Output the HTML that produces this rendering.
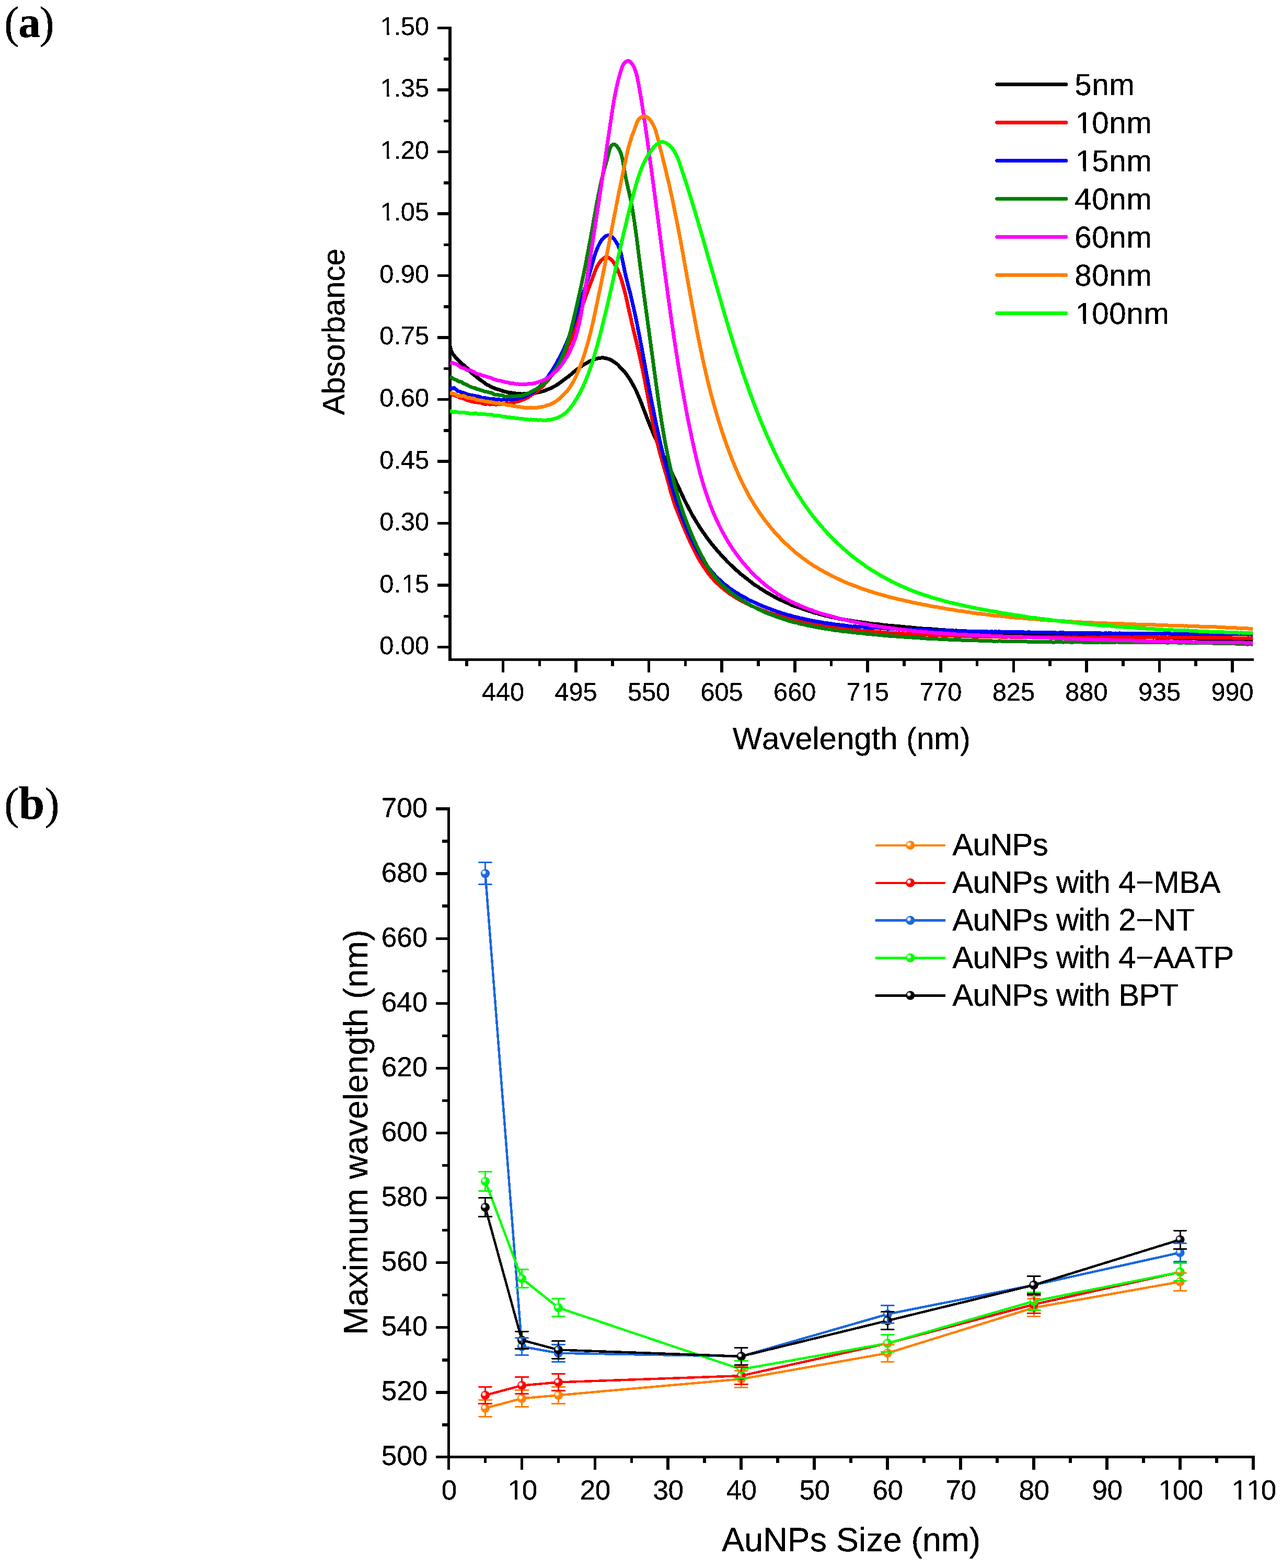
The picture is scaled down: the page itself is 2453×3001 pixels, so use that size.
<!DOCTYPE html>
<html lang="en">
<head>
<meta charset="utf-8">
<title>AuNPs absorbance spectra and maximum wavelength</title>
<style>
html,body{margin:0;padding:0;background:#fff;}
body{width:2453px;height:3001px;overflow:hidden;}
svg{display:block;}
text{font-family:"Liberation Sans",Arial,Helvetica,sans-serif;fill:#000;font-kerning:none;font-variant-ligatures:none;text-rendering:geometricPrecision;}
.lab{font-family:"Liberation Serif","DejaVu Serif",serif;}
.ax{stroke:#000;fill:none;stroke-linecap:butt;shape-rendering:crispEdges;}
.cv{fill:none;stroke-width:7;stroke-linejoin:round;stroke-linecap:butt;shape-rendering:crispEdges;}
.ln{fill:none;stroke-width:4.5;stroke-linejoin:round;stroke-linecap:round;shape-rendering:crispEdges;}
.eb{fill:none;stroke-width:3;stroke-linecap:round;shape-rendering:crispEdges;}
.tx{filter:url(#thr);}
</style>
</head>
<body>
<svg width="2453" height="3001" viewBox="0 0 2453 3001">
<defs>
<clipPath id="clipA"><rect x="860.8" y="40" width="1536.5000000000002" height="1222"/></clipPath>

<radialGradient id="hl" cx="0.5" cy="0.5" r="0.5"><stop offset="0" stop-color="#fff" stop-opacity="1"/><stop offset="0.42" stop-color="#fff" stop-opacity="0.95"/><stop offset="0.7" stop-color="#fff" stop-opacity="0.55"/><stop offset="1" stop-color="#fff" stop-opacity="0"/></radialGradient>
<filter id="thr" x="-5%" y="-5%" width="110%" height="110%" color-interpolation-filters="sRGB"><feComponentTransfer><feFuncA type="discrete" tableValues="0 0 0 1 1 1 1 1 1 1"/></feComponentTransfer></filter>
</defs>
<rect width="2453" height="3001" fill="#fff"/>
<g id="chartA">
<path class="ax" stroke-width="6" d="M861.0 50.5 V1265.2"/>
<path class="ax" stroke-width="5" d="M858.0 1262.5 H2399.0"/>
<path class="ax" stroke-width="5.6" d="M837 1238.6H861.0M837 1120.1H861.0M837 1001.6H861.0M837 883.1H861.0M837 764.6H861.0M837 646H861.0M837 527.5H861.0M837 409H861.0M837 290.5H861.0M837 172H861.0M837 53.5H861.0M849 1179.3H861.0M849 1060.8H861.0M849 942.3H861.0M849 823.8H861.0M849 705.3H861.0M849 586.8H861.0M849 468.3H861.0M849 349.8H861.0M849 231.3H861.0M849 112.8H861.0"/>
<path class="ax" stroke-width="5.6" d="M962.5 1262.4V1287M1102 1262.4V1287M1241.6 1262.4V1287M1381.1 1262.4V1287M1520.7 1262.4V1287M1660.2 1262.4V1287M1799.8 1262.4V1287M1939.4 1262.4V1287M2078.9 1262.4V1287M2218.5 1262.4V1287M2358 1262.4V1287M892.7 1262.4V1275M1032.3 1262.4V1275M1171.8 1262.4V1275M1311.4 1262.4V1275M1450.9 1262.4V1275M1590.5 1262.4V1275M1730 1262.4V1275M1869.6 1262.4V1275M2009.1 1262.4V1275M2148.7 1262.4V1275M2288.2 1262.4V1275"/>
<g clip-path="url(#clipA)">
<polyline class="cv" stroke="#000000" points="861.0,662.8 863.5,671.9 866.1,677.1 868.6,679.7 871.1,683.3 873.7,685.8 876.2,688.8 878.8,691.7 881.3,693.7 883.8,696.7 886.4,698.0 888.9,699.8 891.4,703.2 894.0,704.6 896.5,707.2 899.1,710.4 901.6,713.0 904.1,715.2 906.7,716.8 909.2,719.3 911.7,721.6 914.3,723.2 916.8,725.4 919.4,727.3 921.9,729.0 924.4,730.7 927.0,732.6 929.5,734.9 932.0,736.7 934.6,737.4 937.1,738.9 939.7,740.4 942.2,741.5 944.7,742.4 947.3,743.7 949.8,744.3 952.3,745.2 954.9,745.7 957.4,746.8 960.0,747.6 962.5,748.7 965.0,749.1 967.6,749.7 970.1,750.5 972.6,751.0 975.2,751.3 977.7,751.7 980.3,752.2 982.8,752.3 985.3,752.8 987.9,753.1 990.4,753.2 992.9,753.3 995.5,753.6 998.0,754.2 1000.6,753.9 1003.1,753.6 1005.6,753.7 1008.2,753.6 1010.7,753.6 1013.2,753.5 1015.8,753.1 1018.3,752.5 1020.8,752.3 1023.4,752.2 1025.9,751.8 1028.5,751.2 1031.0,750.9 1033.5,750.2 1036.1,749.4 1038.6,748.9 1041.1,748.0 1043.7,747.1 1046.2,746.0 1048.8,745.0 1051.3,744.1 1053.8,743.2 1056.4,741.9 1058.9,740.3 1061.4,739.0 1064.0,737.6 1066.5,736.0 1069.1,734.4 1071.6,732.5 1074.1,730.6 1076.7,728.5 1079.2,726.7 1081.7,724.9 1084.3,723.0 1086.8,721.4 1089.4,719.2 1091.9,717.1 1094.4,715.0 1097.0,712.7 1099.5,710.8 1102.0,708.7 1104.6,706.8 1107.1,705.2 1109.7,703.3 1112.2,701.2 1114.7,699.4 1117.3,697.7 1119.8,696.3 1122.3,695.1 1124.9,693.5 1127.4,691.9 1130.0,690.9 1132.5,690.0 1135.0,688.9 1137.6,687.5 1140.1,686.9 1142.6,686.3 1145.2,685.6 1147.7,685.2 1150.3,685.0 1152.8,684.8 1155.3,685.0 1157.9,685.4 1160.4,685.9 1162.9,686.7 1165.5,687.4 1168.0,688.4 1170.6,690.0 1173.1,691.5 1175.6,693.1 1178.2,695.0 1180.7,696.7 1183.2,699.1 1185.8,701.9 1188.3,704.4 1190.8,706.9 1193.4,709.8 1195.9,712.7 1198.5,716.1 1201.0,719.9 1203.5,723.5 1206.1,727.4 1208.6,731.8 1211.1,736.3 1213.7,740.9 1216.2,745.8 1218.8,751.4 1221.3,757.3 1223.8,763.1 1226.4,769.4 1228.9,776.1 1231.4,782.7 1234.0,789.3 1236.5,796.1 1239.1,802.7 1241.6,809.2 1244.1,815.4 1246.7,821.6 1249.2,827.6 1251.7,833.5 1254.3,838.9 1256.8,844.3 1259.4,849.9 1261.9,855.3 1264.4,861.0 1267.0,866.6 1269.5,871.9 1272.0,877.1 1274.6,882.5 1277.1,887.5 1279.7,892.7 1282.2,898.1 1284.7,903.4 1287.3,909.0 1289.8,914.3 1292.3,919.7 1294.9,925.3 1297.4,930.7 1300.0,936.2 1302.5,941.4 1305.0,946.7 1307.6,952.5 1310.1,957.8 1312.6,962.8 1315.2,967.7 1317.7,972.5 1320.3,977.3 1322.8,982.1 1325.3,986.8 1327.9,990.9 1330.4,995.4 1332.9,999.4 1335.5,1003.4 1338.0,1007.5 1340.5,1011.5 1343.1,1015.3 1345.6,1018.9 1348.2,1022.5 1350.7,1026.2 1353.2,1029.7 1355.8,1033.1 1358.3,1036.4 1360.8,1039.9 1363.4,1043.0 1365.9,1046.0 1368.5,1048.9 1371.0,1052.1 1373.5,1055.1 1376.1,1057.9 1378.6,1060.7 1381.1,1063.4 1383.7,1066.0 1386.2,1068.7 1388.8,1071.7 1391.3,1074.4 1393.8,1076.8 1396.4,1079.4 1398.9,1081.8 1401.4,1084.2 1404.0,1086.6 1406.5,1088.9 1409.1,1091.3 1411.6,1093.4 1414.1,1095.6 1416.7,1098.0 1419.2,1100.0 1421.7,1101.9 1424.3,1104.0 1426.8,1106.1 1429.4,1107.9 1431.9,1109.9 1434.4,1112.0 1437.0,1113.8 1439.5,1115.9 1442.0,1117.9 1444.6,1119.7 1447.1,1121.2 1449.7,1122.7 1452.2,1124.4 1454.7,1126.3 1457.3,1127.8 1459.8,1129.3 1462.3,1131.2 1464.9,1132.7 1467.4,1134.3 1470.0,1135.6 1472.5,1136.8 1475.0,1138.4 1477.6,1139.8 1480.1,1141.2 1482.6,1142.7 1485.2,1144.2 1487.7,1145.6 1490.3,1147.0 1492.8,1147.9 1495.3,1148.9 1497.9,1150.2 1500.4,1151.4 1502.9,1152.6 1505.5,1153.7 1508.0,1154.5 1510.5,1155.8 1513.1,1157.0 1515.6,1158.2 1518.2,1159.2 1520.7,1160.1 1523.2,1160.9 1525.8,1161.7 1528.3,1162.8 1530.8,1163.4 1533.4,1164.2 1535.9,1165.5 1538.5,1166.4 1541.0,1167.3 1543.5,1168.1 1546.1,1168.8 1548.6,1169.7 1551.1,1170.2 1553.7,1171.1 1556.2,1172.1 1558.8,1172.8 1561.3,1173.5 1563.8,1173.9 1566.4,1174.8 1568.9,1175.7 1571.4,1176.3 1574.0,1177.0 1576.5,1177.7 1579.1,1178.4 1581.6,1178.5 1584.1,1179.0 1586.7,1180.1 1589.2,1180.7 1591.7,1181.3 1594.3,1181.7 1596.8,1182.1 1599.4,1182.3 1601.9,1183.2 1604.4,1184.0 1607.0,1184.5 1609.5,1184.7 1612.0,1185.3 1614.6,1185.8 1617.1,1186.0 1619.7,1186.5 1622.2,1186.9 1624.7,1187.3 1627.3,1187.8 1629.8,1188.1 1632.3,1188.6 1634.9,1189.1 1637.4,1189.4 1640.0,1189.8 1642.5,1190.2 1645.0,1190.4 1647.6,1190.8 1650.1,1191.3 1652.6,1191.4 1655.2,1191.6 1657.7,1192.3 1660.2,1192.6 1662.8,1193.0 1665.3,1193.2 1667.9,1193.5 1670.4,1194.1 1672.9,1194.6 1675.5,1194.5 1678.0,1194.6 1680.5,1194.8 1683.1,1195.1 1685.6,1195.5 1688.2,1195.9 1690.7,1196.3 1693.2,1196.4 1695.8,1196.5 1698.3,1197.0 1700.8,1197.2 1703.4,1197.4 1705.9,1197.6 1708.5,1197.6 1711.0,1198.2 1713.5,1198.7 1716.1,1198.5 1718.6,1198.7 1721.1,1198.9 1723.7,1199.1 1726.2,1199.6 1728.8,1199.7 1731.3,1200.0 1733.8,1200.5 1736.4,1200.7 1738.9,1200.7 1741.4,1200.6 1744.0,1201.0 1746.5,1201.4 1749.1,1201.6 1751.6,1201.9 1754.1,1202.2 1756.7,1202.3 1759.2,1202.3 1761.7,1202.7 1764.3,1203.0 1766.8,1203.0 1769.4,1203.2 1771.9,1203.2 1774.4,1203.1 1777.0,1203.5 1779.5,1203.8 1782.0,1203.9 1784.6,1204.1 1787.1,1204.4 1789.7,1204.3 1792.2,1204.6 1794.7,1205.0 1797.3,1205.4 1799.8,1205.4 1802.3,1205.3 1804.9,1205.5 1807.4,1205.8 1810.0,1206.1 1812.5,1206.2 1815.0,1206.2 1817.6,1206.3 1820.1,1206.4 1822.6,1206.7 1825.2,1207.0 1827.7,1207.0 1830.2,1206.9 1832.8,1207.2 1835.3,1207.5 1837.9,1207.7 1840.4,1207.6 1842.9,1207.9 1845.5,1208.0 1848.0,1208.2 1850.5,1208.4 1853.1,1208.4 1855.6,1208.5 1858.2,1208.8 1860.7,1209.0 1863.2,1209.2 1865.8,1209.4 1868.3,1209.5 1870.8,1209.6 1873.4,1209.6 1875.9,1209.8 1878.5,1210.1 1881.0,1210.0 1883.5,1210.2 1886.1,1210.5 1888.6,1210.5 1891.1,1210.4 1893.7,1210.6 1896.2,1210.8 1898.8,1210.8 1901.3,1211.0 1903.8,1211.1 1906.4,1211.0 1908.9,1211.3 1911.4,1211.5 1914.0,1211.7 1916.5,1211.7 1919.1,1211.8 1921.6,1212.2 1924.1,1212.3 1926.7,1211.9 1929.2,1212.1 1931.7,1212.4 1934.3,1212.9 1936.8,1212.9 1939.4,1212.7 1941.9,1212.7 1944.4,1212.7 1947.0,1213.0 1949.5,1213.1 1952.0,1212.9 1954.6,1213.2 1957.1,1213.3 1959.7,1213.3 1962.2,1213.7 1964.7,1213.8 1967.3,1213.7 1969.8,1213.8 1972.3,1213.7 1974.9,1214.1 1977.4,1214.3 1979.9,1214.2 1982.5,1214.4 1985.0,1214.5 1987.6,1214.3 1990.1,1214.2 1992.6,1214.5 1995.2,1214.8 1997.7,1214.9 2000.2,1214.8 2002.8,1215.1 2005.3,1215.4 2007.9,1215.2 2010.4,1215.1 2012.9,1215.3 2015.5,1215.3 2018.0,1215.3 2020.5,1215.4 2023.1,1215.6 2025.6,1215.6 2028.2,1215.6 2030.7,1215.5 2033.2,1215.4 2035.8,1215.7 2038.3,1216.2 2040.8,1216.2 2043.4,1215.9 2045.9,1216.1 2048.5,1216.2 2051.0,1216.4 2053.5,1216.5 2056.1,1216.5 2058.6,1216.4 2061.1,1216.8 2063.7,1216.6 2066.2,1216.6 2068.8,1216.8 2071.3,1216.9 2073.8,1217.0 2076.4,1217.0 2078.9,1217.1 2081.4,1216.8 2084.0,1217.3 2086.5,1217.6 2089.1,1217.5 2091.6,1217.6 2094.1,1217.4 2096.7,1217.3 2099.2,1217.5 2101.7,1217.9 2104.3,1217.8 2106.8,1217.6 2109.4,1218.1 2111.9,1218.0 2114.4,1217.8 2117.0,1218.1 2119.5,1218.2 2122.0,1218.1 2124.6,1218.1 2127.1,1218.0 2129.7,1218.1 2132.2,1218.3 2134.7,1218.3 2137.3,1218.3 2139.8,1218.5 2142.3,1218.7 2144.9,1219.0 2147.4,1219.0 2149.9,1219.0 2152.5,1219.3 2155.0,1219.2 2157.6,1218.9 2160.1,1218.8 2162.6,1218.9 2165.2,1219.0 2167.7,1219.0 2170.2,1219.1 2172.8,1219.3 2175.3,1219.6 2177.9,1219.7 2180.4,1219.8 2182.9,1219.7 2185.5,1219.8 2188.0,1219.9 2190.5,1219.8 2193.1,1219.8 2195.6,1219.9 2198.2,1219.8 2200.7,1219.9 2203.2,1219.9 2205.8,1220.0 2208.3,1220.0 2210.8,1219.9 2213.4,1220.2 2215.9,1220.4 2218.5,1220.4 2221.0,1220.6 2223.5,1220.4 2226.1,1220.6 2228.6,1220.6 2231.1,1220.7 2233.7,1220.7 2236.2,1220.9 2238.8,1221.0 2241.3,1220.9 2243.8,1220.9 2246.4,1221.1 2248.9,1221.3 2251.4,1221.1 2254.0,1220.9 2256.5,1221.3 2259.1,1221.5 2261.6,1221.6 2264.1,1221.7 2266.7,1221.5 2269.2,1221.4 2271.7,1221.6 2274.3,1221.8 2276.8,1221.8 2279.4,1221.6 2281.9,1221.6 2284.4,1221.4 2287.0,1221.7 2289.5,1221.9 2292.0,1222.2 2294.6,1222.4 2297.1,1222.2 2299.6,1222.1 2302.2,1222.3 2304.7,1222.4 2307.3,1222.5 2309.8,1222.5 2312.3,1222.8 2314.9,1222.9 2317.4,1223.1 2319.9,1223.2 2322.5,1223.3 2325.0,1223.2 2327.6,1223.1 2330.1,1223.4 2332.6,1223.5 2335.2,1223.4 2337.7,1223.3 2340.2,1223.6 2342.8,1223.7 2345.3,1223.7 2347.9,1223.9 2350.4,1224.1 2352.9,1224.1 2355.5,1224.1 2358.0,1224.2 2360.5,1224.3 2363.1,1224.4 2365.6,1224.3 2368.2,1224.5 2370.7,1225.0 2373.2,1224.9 2375.8,1224.5 2378.3,1224.8 2380.8,1225.0 2383.4,1225.0 2385.9,1225.2 2388.5,1225.2 2391.0,1225.2 2393.5,1225.4 2396.1,1225.6 2398.6,1225.6 2400.0,1225.3"/>
<polyline class="cv" stroke="#FF0000" points="861.0,751.9 863.5,752.4 866.1,755.5 868.6,756.0 871.1,756.8 873.7,758.5 876.2,758.5 878.8,760.3 881.3,761.5 883.8,761.1 886.4,762.7 888.9,763.7 891.4,764.9 894.0,766.0 896.5,766.0 899.1,767.1 901.6,768.1 904.1,768.7 906.7,769.4 909.2,769.6 911.7,769.2 914.3,770.2 916.8,770.2 919.4,770.7 921.9,771.6 924.4,772.5 927.0,773.1 929.5,773.6 932.0,772.7 934.6,773.0 937.1,774.1 939.7,773.8 942.2,773.7 944.7,773.9 947.3,774.0 949.8,774.2 952.3,773.8 954.9,773.6 957.4,773.8 960.0,773.4 962.5,773.0 965.0,772.8 967.6,772.5 970.1,772.0 972.6,772.1 975.2,772.2 977.7,771.4 980.3,770.9 982.8,770.5 985.3,769.9 987.9,769.0 990.4,768.7 992.9,768.0 995.5,767.0 998.0,766.0 1000.6,764.7 1003.1,764.0 1005.6,762.8 1008.2,761.6 1010.7,760.3 1013.2,758.6 1015.8,756.8 1018.3,755.0 1020.8,753.4 1023.4,751.3 1025.9,749.7 1028.5,748.1 1031.0,745.6 1033.5,743.4 1036.1,741.2 1038.6,738.7 1041.1,736.0 1043.7,733.3 1046.2,730.9 1048.8,727.9 1051.3,724.5 1053.8,721.2 1056.4,717.9 1058.9,714.4 1061.4,710.9 1064.0,707.1 1066.5,702.9 1069.1,698.6 1071.6,694.3 1074.1,689.5 1076.7,684.4 1079.2,679.0 1081.7,673.8 1084.3,668.7 1086.8,662.9 1089.4,656.9 1091.9,651.1 1094.4,644.2 1097.0,637.3 1099.5,630.4 1102.0,622.9 1104.6,615.3 1107.1,607.8 1109.7,600.0 1112.2,592.3 1114.7,584.5 1117.3,577.1 1119.8,569.9 1122.3,562.9 1124.9,556.1 1127.4,548.8 1130.0,542.3 1132.5,535.6 1135.0,528.8 1137.6,521.9 1140.1,515.3 1142.6,510.0 1145.2,505.5 1147.7,501.8 1150.3,498.6 1152.8,496.2 1155.3,494.1 1157.9,492.6 1160.4,492.1 1162.9,492.4 1165.5,493.7 1168.0,495.6 1170.6,498.0 1173.1,500.9 1175.6,504.6 1178.2,509.0 1180.7,514.0 1183.2,519.9 1185.8,526.5 1188.3,533.4 1190.8,541.4 1193.4,550.4 1195.9,560.3 1198.5,571.0 1201.0,582.4 1203.5,594.1 1206.1,605.3 1208.6,616.6 1211.1,627.5 1213.7,638.2 1216.2,648.4 1218.8,659.0 1221.3,669.9 1223.8,680.8 1226.4,692.5 1228.9,704.6 1231.4,716.9 1234.0,729.9 1236.5,743.2 1239.1,756.6 1241.6,769.9 1244.1,783.2 1246.7,796.6 1249.2,809.3 1251.7,821.4 1254.3,833.0 1256.8,843.6 1259.4,854.2 1261.9,864.2 1264.4,873.3 1267.0,882.4 1269.5,890.7 1272.0,899.5 1274.6,908.5 1277.1,917.3 1279.7,926.6 1282.2,936.3 1284.7,945.6 1287.3,953.9 1289.8,961.7 1292.3,969.2 1294.9,975.6 1297.4,982.1 1300.0,988.6 1302.5,994.8 1305.0,1001.3 1307.6,1007.3 1310.1,1013.3 1312.6,1019.5 1315.2,1025.1 1317.7,1030.7 1320.3,1036.4 1322.8,1041.8 1325.3,1047.2 1327.9,1052.4 1330.4,1057.3 1332.9,1062.2 1335.5,1066.9 1338.0,1071.2 1340.5,1075.4 1343.1,1079.3 1345.6,1083.6 1348.2,1087.2 1350.7,1090.8 1353.2,1094.7 1355.8,1098.3 1358.3,1101.2 1360.8,1104.5 1363.4,1107.1 1365.9,1110.1 1368.5,1112.7 1371.0,1115.2 1373.5,1117.6 1376.1,1119.8 1378.6,1122.2 1381.1,1124.3 1383.7,1126.5 1386.2,1128.8 1388.8,1130.6 1391.3,1132.7 1393.8,1134.5 1396.4,1136.3 1398.9,1137.9 1401.4,1139.5 1404.0,1141.4 1406.5,1142.7 1409.1,1144.4 1411.6,1146.1 1414.1,1147.5 1416.7,1148.9 1419.2,1150.2 1421.7,1151.3 1424.3,1152.6 1426.8,1154.1 1429.4,1155.5 1431.9,1156.8 1434.4,1157.9 1437.0,1159.4 1439.5,1160.2 1442.0,1161.3 1444.6,1162.6 1447.1,1163.5 1449.7,1164.2 1452.2,1165.4 1454.7,1166.5 1457.3,1167.5 1459.8,1168.4 1462.3,1169.4 1464.9,1170.2 1467.4,1171.3 1470.0,1172.3 1472.5,1173.3 1475.0,1173.9 1477.6,1174.7 1480.1,1175.7 1482.6,1176.4 1485.2,1176.9 1487.7,1177.8 1490.3,1178.8 1492.8,1179.8 1495.3,1180.3 1497.9,1181.1 1500.4,1181.8 1502.9,1182.6 1505.5,1183.0 1508.0,1183.6 1510.5,1184.6 1513.1,1185.2 1515.6,1185.7 1518.2,1186.6 1520.7,1187.0 1523.2,1187.8 1525.8,1188.3 1528.3,1189.0 1530.8,1189.4 1533.4,1189.9 1535.9,1190.6 1538.5,1191.4 1541.0,1191.8 1543.5,1192.3 1546.1,1192.8 1548.6,1193.2 1551.1,1193.8 1553.7,1194.3 1556.2,1194.8 1558.8,1195.2 1561.3,1195.5 1563.8,1196.0 1566.4,1196.3 1568.9,1196.7 1571.4,1197.4 1574.0,1197.9 1576.5,1198.1 1579.1,1198.9 1581.6,1199.3 1584.1,1199.5 1586.7,1199.8 1589.2,1200.3 1591.7,1200.7 1594.3,1201.0 1596.8,1201.2 1599.4,1201.5 1601.9,1202.0 1604.4,1202.5 1607.0,1202.8 1609.5,1202.8 1612.0,1202.8 1614.6,1203.1 1617.1,1203.4 1619.7,1203.9 1622.2,1204.4 1624.7,1204.6 1627.3,1204.8 1629.8,1205.0 1632.3,1205.3 1634.9,1205.4 1637.4,1205.7 1640.0,1206.2 1642.5,1206.5 1645.0,1206.6 1647.6,1207.2 1650.1,1207.3 1652.6,1207.6 1655.2,1207.5 1657.7,1207.4 1660.2,1207.9 1662.8,1208.3 1665.3,1208.4 1667.9,1208.5 1670.4,1208.7 1672.9,1209.1 1675.5,1209.3 1678.0,1209.3 1680.5,1209.4 1683.1,1209.8 1685.6,1210.0 1688.2,1210.1 1690.7,1210.4 1693.2,1210.6 1695.8,1210.5 1698.3,1210.8 1700.8,1211.2 1703.4,1211.5 1705.9,1211.4 1708.5,1211.5 1711.0,1211.7 1713.5,1211.8 1716.1,1212.1 1718.6,1212.0 1721.1,1211.8 1723.7,1212.3 1726.2,1212.8 1728.8,1212.8 1731.3,1213.1 1733.8,1213.2 1736.4,1213.1 1738.9,1213.3 1741.4,1213.4 1744.0,1213.3 1746.5,1213.4 1749.1,1213.6 1751.6,1214.0 1754.1,1214.1 1756.7,1214.0 1759.2,1214.1 1761.7,1214.6 1764.3,1214.7 1766.8,1214.7 1769.4,1214.8 1771.9,1214.9 1774.4,1215.0 1777.0,1215.1 1779.5,1215.1 1782.0,1215.3 1784.6,1215.3 1787.1,1215.6 1789.7,1215.8 1792.2,1215.5 1794.7,1215.8 1797.3,1215.9 1799.8,1215.9 1802.3,1216.1 1804.9,1216.4 1807.4,1216.4 1810.0,1216.2 1812.5,1216.5 1815.0,1216.7 1817.6,1216.8 1820.1,1216.7 1822.6,1216.9 1825.2,1217.0 1827.7,1217.1 1830.2,1217.0 1832.8,1217.0 1835.3,1217.5 1837.9,1217.7 1840.4,1217.5 1842.9,1217.6 1845.5,1217.6 1848.0,1217.7 1850.5,1217.6 1853.1,1217.6 1855.6,1217.7 1858.2,1217.8 1860.7,1218.1 1863.2,1218.2 1865.8,1218.0 1868.3,1218.0 1870.8,1218.2 1873.4,1218.4 1875.9,1218.3 1878.5,1218.1 1881.0,1218.2 1883.5,1218.5 1886.1,1218.3 1888.6,1218.5 1891.1,1218.7 1893.7,1218.9 1896.2,1218.7 1898.8,1218.9 1901.3,1219.0 1903.8,1218.7 1906.4,1218.9 1908.9,1218.9 1911.4,1218.8 1914.0,1218.9 1916.5,1219.1 1919.1,1219.0 1921.6,1219.0 1924.1,1219.0 1926.7,1219.1 1929.2,1218.9 1931.7,1219.0 1934.3,1219.3 1936.8,1219.2 1939.4,1219.2 1941.9,1219.3 1944.4,1219.3 1947.0,1219.3 1949.5,1219.3 1952.0,1219.3 1954.6,1219.3 1957.1,1219.5 1959.7,1219.6 1962.2,1219.4 1964.7,1219.6 1967.3,1219.5 1969.8,1219.6 1972.3,1219.5 1974.9,1219.5 1977.4,1219.5 1979.9,1219.7 1982.5,1219.7 1985.0,1219.7 1987.6,1219.8 1990.1,1219.9 1992.6,1219.7 1995.2,1219.6 1997.7,1219.8 2000.2,1220.0 2002.8,1219.9 2005.3,1220.0 2007.9,1219.9 2010.4,1219.5 2012.9,1219.7 2015.5,1219.8 2018.0,1219.7 2020.5,1219.8 2023.1,1220.0 2025.6,1219.8 2028.2,1219.8 2030.7,1219.9 2033.2,1219.8 2035.8,1219.8 2038.3,1219.7 2040.8,1219.5 2043.4,1219.6 2045.9,1219.6 2048.5,1220.0 2051.0,1220.0 2053.5,1219.8 2056.1,1219.8 2058.6,1219.7 2061.1,1219.8 2063.7,1220.0 2066.2,1220.0 2068.8,1220.1 2071.3,1220.2 2073.8,1220.0 2076.4,1220.0 2078.9,1219.8 2081.4,1219.7 2084.0,1219.8 2086.5,1219.8 2089.1,1219.7 2091.6,1219.8 2094.1,1219.9 2096.7,1219.8 2099.2,1220.2 2101.7,1220.1 2104.3,1219.9 2106.8,1219.9 2109.4,1219.8 2111.9,1219.6 2114.4,1219.5 2117.0,1219.7 2119.5,1219.7 2122.0,1219.6 2124.6,1219.5 2127.1,1219.6 2129.7,1219.7 2132.2,1219.7 2134.7,1219.8 2137.3,1219.7 2139.8,1219.7 2142.3,1219.8 2144.9,1219.9 2147.4,1219.7 2149.9,1219.4 2152.5,1219.6 2155.0,1219.8 2157.6,1219.8 2160.1,1219.8 2162.6,1219.9 2165.2,1220.1 2167.7,1220.0 2170.2,1219.7 2172.8,1219.8 2175.3,1219.7 2177.9,1219.7 2180.4,1219.5 2182.9,1219.7 2185.5,1219.8 2188.0,1219.7 2190.5,1219.7 2193.1,1219.7 2195.6,1219.7 2198.2,1219.7 2200.7,1220.0 2203.2,1219.7 2205.8,1219.5 2208.3,1219.7 2210.8,1219.8 2213.4,1219.7 2215.9,1219.8 2218.5,1220.1 2221.0,1219.7 2223.5,1219.6 2226.1,1219.7 2228.6,1219.5 2231.1,1219.9 2233.7,1220.1 2236.2,1219.9 2238.8,1219.8 2241.3,1219.7 2243.8,1219.9 2246.4,1219.9 2248.9,1219.8 2251.4,1219.6 2254.0,1219.6 2256.5,1219.9 2259.1,1219.9 2261.6,1220.1 2264.1,1220.1 2266.7,1219.8 2269.2,1219.9 2271.7,1219.8 2274.3,1219.7 2276.8,1219.9 2279.4,1219.9 2281.9,1219.6 2284.4,1219.7 2287.0,1219.8 2289.5,1219.9 2292.0,1220.1 2294.6,1220.1 2297.1,1220.1 2299.6,1220.2 2302.2,1220.1 2304.7,1220.4 2307.3,1220.2 2309.8,1220.1 2312.3,1220.4 2314.9,1220.3 2317.4,1220.3 2319.9,1220.2 2322.5,1220.2 2325.0,1220.1 2327.6,1220.4 2330.1,1220.9 2332.6,1220.8 2335.2,1220.8 2337.7,1220.6 2340.2,1220.7 2342.8,1220.6 2345.3,1220.5 2347.9,1220.7 2350.4,1220.8 2352.9,1220.7 2355.5,1220.9 2358.0,1221.0 2360.5,1221.1 2363.1,1221.2 2365.6,1221.0 2368.2,1221.0 2370.7,1221.2 2373.2,1221.1 2375.8,1221.3 2378.3,1221.3 2380.8,1221.3 2383.4,1221.3 2385.9,1221.6 2388.5,1221.5 2391.0,1221.6 2393.5,1221.7 2396.1,1221.4 2398.6,1221.5 2400.0,1221.8"/>
<polyline class="cv" stroke="#0000FF" points="861.0,740.4 863.5,743.7 866.1,743.7 868.6,742.3 871.1,744.1 873.7,746.3 876.2,748.7 878.8,749.1 881.3,749.9 883.8,751.4 886.4,751.8 888.9,752.4 891.4,753.6 894.0,754.7 896.5,755.4 899.1,755.9 901.6,756.7 904.1,756.7 906.7,757.4 909.2,757.6 911.7,758.4 914.3,758.6 916.8,759.0 919.4,760.2 921.9,761.1 924.4,761.1 927.0,761.1 929.5,761.9 932.0,762.3 934.6,763.2 937.1,763.3 939.7,763.2 942.2,763.2 944.7,763.7 947.3,764.2 949.8,764.7 952.3,764.5 954.9,764.7 957.4,765.1 960.0,765.4 962.5,764.9 965.0,764.5 967.6,765.1 970.1,765.4 972.6,764.9 975.2,764.6 977.7,764.7 980.3,764.6 982.8,764.2 985.3,763.8 987.9,763.7 990.4,763.1 992.9,762.1 995.5,761.5 998.0,761.0 1000.6,760.2 1003.1,759.5 1005.6,758.3 1008.2,757.2 1010.7,755.6 1013.2,754.2 1015.8,753.2 1018.3,751.9 1020.8,750.3 1023.4,747.9 1025.9,745.9 1028.5,743.4 1031.0,741.1 1033.5,738.7 1036.1,735.9 1038.6,733.2 1041.1,730.0 1043.7,727.1 1046.2,723.9 1048.8,720.4 1051.3,716.6 1053.8,713.2 1056.4,709.5 1058.9,705.2 1061.4,701.0 1064.0,696.5 1066.5,691.7 1069.1,687.3 1071.6,682.7 1074.1,677.8 1076.7,672.9 1079.2,667.4 1081.7,661.6 1084.3,655.8 1086.8,649.7 1089.4,643.2 1091.9,636.4 1094.4,629.5 1097.0,622.1 1099.5,614.0 1102.0,606.2 1104.6,598.2 1107.1,589.7 1109.7,581.3 1112.2,573.5 1114.7,565.4 1117.3,557.5 1119.8,549.8 1122.3,542.0 1124.9,534.0 1127.4,525.7 1130.0,516.9 1132.5,507.7 1135.0,498.6 1137.6,490.0 1140.1,482.4 1142.6,475.9 1145.2,470.0 1147.7,465.2 1150.3,460.7 1152.8,457.3 1155.3,454.9 1157.9,452.8 1160.4,451.1 1162.9,450.7 1165.5,450.7 1168.0,451.4 1170.6,453.3 1173.1,455.6 1175.6,458.4 1178.2,462.0 1180.7,466.1 1183.2,470.9 1185.8,477.2 1188.3,485.7 1190.8,496.8 1193.4,509.7 1195.9,521.6 1198.5,532.0 1201.0,542.1 1203.5,552.2 1206.1,562.1 1208.6,572.7 1211.1,583.7 1213.7,594.9 1216.2,606.4 1218.8,619.0 1221.3,631.7 1223.8,644.7 1226.4,658.1 1228.9,671.5 1231.4,685.3 1234.0,699.2 1236.5,713.1 1239.1,727.1 1241.6,740.7 1244.1,754.2 1246.7,767.7 1249.2,780.6 1251.7,793.2 1254.3,805.7 1256.8,817.7 1259.4,829.3 1261.9,840.8 1264.4,852.2 1267.0,862.7 1269.5,872.9 1272.0,883.1 1274.6,892.6 1277.1,901.6 1279.7,910.6 1282.2,919.6 1284.7,928.5 1287.3,936.6 1289.8,944.4 1292.3,952.3 1294.9,960.1 1297.4,967.1 1300.0,974.2 1302.5,981.5 1305.0,988.3 1307.6,994.9 1310.1,1001.5 1312.6,1007.5 1315.2,1013.6 1317.7,1019.6 1320.3,1024.9 1322.8,1030.4 1325.3,1035.7 1327.9,1041.0 1330.4,1046.3 1332.9,1051.3 1335.5,1055.7 1338.0,1059.8 1340.5,1063.8 1343.1,1068.1 1345.6,1072.1 1348.2,1076.0 1350.7,1079.7 1353.2,1083.0 1355.8,1086.6 1358.3,1089.9 1360.8,1092.8 1363.4,1095.4 1365.9,1098.5 1368.5,1101.6 1371.0,1104.3 1373.5,1106.7 1376.1,1109.0 1378.6,1111.5 1381.1,1113.6 1383.7,1116.0 1386.2,1118.3 1388.8,1120.1 1391.3,1121.9 1393.8,1124.2 1396.4,1126.1 1398.9,1127.8 1401.4,1129.5 1404.0,1131.3 1406.5,1133.0 1409.1,1134.2 1411.6,1135.6 1414.1,1137.6 1416.7,1139.2 1419.2,1140.3 1421.7,1141.9 1424.3,1143.3 1426.8,1144.4 1429.4,1146.0 1431.9,1147.7 1434.4,1148.9 1437.0,1149.9 1439.5,1151.1 1442.0,1152.3 1444.6,1153.4 1447.1,1154.5 1449.7,1155.9 1452.2,1157.0 1454.7,1158.0 1457.3,1159.1 1459.8,1160.2 1462.3,1161.3 1464.9,1162.2 1467.4,1163.2 1470.0,1164.3 1472.5,1165.1 1475.0,1166.0 1477.6,1167.1 1480.1,1167.9 1482.6,1168.7 1485.2,1169.8 1487.7,1170.7 1490.3,1171.3 1492.8,1172.4 1495.3,1173.3 1497.9,1174.0 1500.4,1174.6 1502.9,1175.4 1505.5,1176.3 1508.0,1177.0 1510.5,1177.6 1513.1,1178.2 1515.6,1178.9 1518.2,1179.8 1520.7,1180.4 1523.2,1180.9 1525.8,1181.3 1528.3,1182.3 1530.8,1183.1 1533.4,1183.2 1535.9,1183.8 1538.5,1184.4 1541.0,1185.1 1543.5,1185.8 1546.1,1186.3 1548.6,1186.7 1551.1,1187.2 1553.7,1187.8 1556.2,1188.4 1558.8,1188.9 1561.3,1189.2 1563.8,1189.6 1566.4,1190.2 1568.9,1190.7 1571.4,1190.9 1574.0,1191.4 1576.5,1192.0 1579.1,1192.3 1581.6,1192.5 1584.1,1192.9 1586.7,1193.4 1589.2,1193.6 1591.7,1194.1 1594.3,1194.6 1596.8,1194.9 1599.4,1195.1 1601.9,1195.6 1604.4,1195.7 1607.0,1196.1 1609.5,1196.4 1612.0,1196.5 1614.6,1196.9 1617.1,1197.2 1619.7,1197.6 1622.2,1198.0 1624.7,1198.2 1627.3,1198.6 1629.8,1199.1 1632.3,1199.0 1634.9,1198.8 1637.4,1199.0 1640.0,1199.4 1642.5,1199.8 1645.0,1200.0 1647.6,1199.8 1650.1,1199.8 1652.6,1200.0 1655.2,1200.5 1657.7,1200.9 1660.2,1201.0 1662.8,1201.0 1665.3,1201.0 1667.9,1201.2 1670.4,1201.4 1672.9,1201.6 1675.5,1201.9 1678.0,1201.9 1680.5,1201.9 1683.1,1202.0 1685.6,1202.1 1688.2,1202.3 1690.7,1202.5 1693.2,1202.8 1695.8,1202.9 1698.3,1203.1 1700.8,1203.3 1703.4,1203.1 1705.9,1203.1 1708.5,1203.6 1711.0,1203.7 1713.5,1203.5 1716.1,1204.1 1718.6,1204.2 1721.1,1203.9 1723.7,1203.9 1726.2,1204.1 1728.8,1204.3 1731.3,1204.4 1733.8,1204.3 1736.4,1204.3 1738.9,1204.6 1741.4,1204.7 1744.0,1204.7 1746.5,1205.1 1749.1,1205.2 1751.6,1205.2 1754.1,1205.0 1756.7,1205.0 1759.2,1205.3 1761.7,1205.2 1764.3,1205.4 1766.8,1205.5 1769.4,1205.6 1771.9,1205.8 1774.4,1205.8 1777.0,1205.8 1779.5,1205.8 1782.0,1206.1 1784.6,1206.2 1787.1,1206.1 1789.7,1206.2 1792.2,1206.2 1794.7,1206.3 1797.3,1206.2 1799.8,1206.5 1802.3,1206.7 1804.9,1206.5 1807.4,1206.7 1810.0,1206.7 1812.5,1206.9 1815.0,1207.0 1817.6,1206.9 1820.1,1207.0 1822.6,1207.1 1825.2,1207.2 1827.7,1207.2 1830.2,1207.1 1832.8,1207.5 1835.3,1207.6 1837.9,1207.7 1840.4,1207.5 1842.9,1207.4 1845.5,1207.6 1848.0,1207.7 1850.5,1208.1 1853.1,1208.1 1855.6,1208.1 1858.2,1208.1 1860.7,1208.2 1863.2,1208.1 1865.8,1208.0 1868.3,1208.0 1870.8,1208.1 1873.4,1208.6 1875.9,1208.6 1878.5,1208.3 1881.0,1208.4 1883.5,1208.6 1886.1,1208.6 1888.6,1208.8 1891.1,1209.0 1893.7,1209.0 1896.2,1208.9 1898.8,1208.9 1901.3,1209.1 1903.8,1208.9 1906.4,1209.0 1908.9,1209.0 1911.4,1208.9 1914.0,1209.0 1916.5,1209.2 1919.1,1209.4 1921.6,1209.3 1924.1,1209.3 1926.7,1209.3 1929.2,1209.3 1931.7,1209.2 1934.3,1209.4 1936.8,1209.4 1939.4,1209.6 1941.9,1209.7 1944.4,1209.6 1947.0,1209.7 1949.5,1209.8 1952.0,1209.6 1954.6,1209.8 1957.1,1209.9 1959.7,1210.0 1962.2,1210.0 1964.7,1210.1 1967.3,1209.9 1969.8,1209.9 1972.3,1210.2 1974.9,1210.4 1977.4,1210.3 1979.9,1210.3 1982.5,1210.3 1985.0,1210.3 1987.6,1210.3 1990.1,1210.5 1992.6,1210.4 1995.2,1210.6 1997.7,1210.5 2000.2,1210.8 2002.8,1210.6 2005.3,1210.6 2007.9,1210.9 2010.4,1210.9 2012.9,1210.7 2015.5,1210.6 2018.0,1210.7 2020.5,1211.0 2023.1,1211.1 2025.6,1211.1 2028.2,1210.8 2030.7,1210.7 2033.2,1210.9 2035.8,1211.0 2038.3,1211.1 2040.8,1211.2 2043.4,1211.2 2045.9,1211.3 2048.5,1211.3 2051.0,1211.4 2053.5,1211.4 2056.1,1211.3 2058.6,1211.1 2061.1,1211.2 2063.7,1211.2 2066.2,1211.5 2068.8,1211.5 2071.3,1211.5 2073.8,1211.7 2076.4,1211.6 2078.9,1211.5 2081.4,1211.6 2084.0,1211.7 2086.5,1211.9 2089.1,1211.7 2091.6,1211.7 2094.1,1211.4 2096.7,1211.3 2099.2,1211.2 2101.7,1211.6 2104.3,1211.9 2106.8,1212.0 2109.4,1212.2 2111.9,1212.1 2114.4,1211.9 2117.0,1211.9 2119.5,1212.1 2122.0,1211.8 2124.6,1211.8 2127.1,1212.1 2129.7,1212.3 2132.2,1212.2 2134.7,1212.0 2137.3,1212.1 2139.8,1212.1 2142.3,1211.9 2144.9,1212.1 2147.4,1212.3 2149.9,1212.0 2152.5,1212.2 2155.0,1212.4 2157.6,1212.0 2160.1,1212.0 2162.6,1212.3 2165.2,1212.4 2167.7,1212.3 2170.2,1212.4 2172.8,1212.4 2175.3,1212.5 2177.9,1212.4 2180.4,1212.4 2182.9,1212.2 2185.5,1212.4 2188.0,1212.4 2190.5,1212.6 2193.1,1212.5 2195.6,1212.5 2198.2,1212.8 2200.7,1212.5 2203.2,1212.5 2205.8,1212.7 2208.3,1212.8 2210.8,1212.8 2213.4,1212.5 2215.9,1212.5 2218.5,1212.7 2221.0,1212.8 2223.5,1213.0 2226.1,1212.9 2228.6,1212.6 2231.1,1212.6 2233.7,1212.8 2236.2,1212.8 2238.8,1212.9 2241.3,1213.1 2243.8,1213.0 2246.4,1213.1 2248.9,1213.0 2251.4,1213.0 2254.0,1213.1 2256.5,1213.3 2259.1,1213.1 2261.6,1213.1 2264.1,1213.3 2266.7,1213.1 2269.2,1212.9 2271.7,1213.1 2274.3,1213.2 2276.8,1213.1 2279.4,1212.9 2281.9,1213.0 2284.4,1213.2 2287.0,1213.2 2289.5,1213.2 2292.0,1213.3 2294.6,1213.3 2297.1,1213.3 2299.6,1213.3 2302.2,1213.4 2304.7,1213.4 2307.3,1213.4 2309.8,1213.5 2312.3,1213.3 2314.9,1213.1 2317.4,1213.3 2319.9,1213.3 2322.5,1213.2 2325.0,1213.4 2327.6,1213.4 2330.1,1213.4 2332.6,1213.6 2335.2,1213.6 2337.7,1213.7 2340.2,1213.5 2342.8,1213.6 2345.3,1213.6 2347.9,1213.8 2350.4,1213.8 2352.9,1213.8 2355.5,1213.5 2358.0,1213.7 2360.5,1213.7 2363.1,1213.7 2365.6,1213.8 2368.2,1213.7 2370.7,1213.6 2373.2,1213.9 2375.8,1213.9 2378.3,1213.9 2380.8,1213.8 2383.4,1213.7 2385.9,1213.9 2388.5,1214.1 2391.0,1213.9 2393.5,1214.0 2396.1,1214.2 2398.6,1214.2 2400.0,1214.1"/>
<polyline class="cv" stroke="#008000" points="861.0,720.3 863.5,722.2 866.1,723.8 868.6,725.5 871.1,726.8 873.7,727.2 876.2,729.3 878.8,730.4 881.3,730.5 883.8,731.5 886.4,733.9 888.9,735.0 891.4,735.5 894.0,737.0 896.5,738.4 899.1,739.9 901.6,740.6 904.1,741.8 906.7,742.3 909.2,742.6 911.7,744.8 914.3,745.0 916.8,745.2 919.4,746.6 921.9,747.4 924.4,748.0 927.0,749.3 929.5,749.9 932.0,750.0 934.6,750.6 937.1,751.5 939.7,751.7 942.2,752.6 944.7,754.6 947.3,755.1 949.8,755.0 952.3,755.2 954.9,756.4 957.4,756.5 960.0,756.5 962.5,757.1 965.0,758.4 967.6,759.2 970.1,758.8 972.6,758.6 975.2,759.0 977.7,758.8 980.3,758.8 982.8,758.9 985.3,759.0 987.9,758.6 990.4,758.0 992.9,757.3 995.5,757.2 998.0,756.9 1000.6,756.4 1003.1,755.4 1005.6,754.4 1008.2,753.6 1010.7,752.6 1013.2,751.8 1015.8,750.1 1018.3,748.9 1020.8,747.7 1023.4,746.2 1025.9,744.9 1028.5,743.2 1031.0,741.5 1033.5,739.8 1036.1,737.8 1038.6,735.6 1041.1,733.6 1043.7,731.4 1046.2,728.9 1048.8,726.1 1051.3,723.4 1053.8,720.0 1056.4,716.4 1058.9,713.2 1061.4,709.5 1064.0,705.7 1066.5,701.5 1069.1,696.3 1071.6,691.5 1074.1,686.2 1076.7,680.2 1079.2,674.4 1081.7,667.3 1084.3,659.6 1086.8,651.8 1089.4,643.1 1091.9,633.5 1094.4,623.9 1097.0,613.3 1099.5,602.3 1102.0,591.8 1104.6,580.7 1107.1,569.4 1109.7,557.9 1112.2,546.2 1114.7,534.2 1117.3,521.9 1119.8,509.3 1122.3,496.4 1124.9,483.1 1127.4,469.4 1130.0,455.9 1132.5,441.8 1135.0,427.2 1137.6,413.0 1140.1,398.9 1142.6,385.0 1145.2,371.8 1147.7,359.6 1150.3,348.0 1152.8,337.2 1155.3,327.5 1157.9,318.4 1160.4,309.4 1162.9,300.3 1165.5,289.1 1168.0,281.7 1170.6,278.1 1173.1,276.5 1175.6,276.4 1178.2,278.0 1180.7,280.4 1183.2,283.5 1185.8,288.1 1188.3,294.3 1190.8,303.2 1193.4,317.7 1195.9,333.1 1198.5,345.4 1201.0,356.7 1203.5,367.7 1206.1,379.2 1208.6,392.3 1211.1,407.0 1213.7,423.0 1216.2,440.7 1218.8,459.9 1221.3,480.0 1223.8,500.1 1226.4,519.8 1228.9,538.9 1231.4,558.2 1234.0,577.3 1236.5,595.8 1239.1,614.5 1241.6,633.0 1244.1,651.5 1246.7,670.3 1249.2,688.8 1251.7,707.7 1254.3,726.6 1256.8,745.0 1259.4,763.1 1261.9,780.4 1264.4,797.3 1267.0,813.4 1269.5,828.7 1272.0,843.0 1274.6,856.5 1277.1,869.4 1279.7,881.6 1282.2,893.0 1284.7,903.7 1287.3,913.8 1289.8,924.0 1292.3,933.4 1294.9,942.1 1297.4,951.0 1300.0,959.4 1302.5,967.3 1305.0,975.0 1307.6,982.5 1310.1,989.3 1312.6,996.1 1315.2,1002.7 1317.7,1009.1 1320.3,1015.4 1322.8,1021.6 1325.3,1027.6 1327.9,1033.2 1330.4,1038.8 1332.9,1044.2 1335.5,1049.4 1338.0,1054.6 1340.5,1059.6 1343.1,1064.6 1345.6,1069.3 1348.2,1074.0 1350.7,1078.5 1353.2,1083.0 1355.8,1087.1 1358.3,1091.1 1360.8,1094.9 1363.4,1098.5 1365.9,1101.9 1368.5,1105.3 1371.0,1108.2 1373.5,1111.0 1376.1,1113.9 1378.6,1116.7 1381.1,1119.5 1383.7,1121.5 1386.2,1123.7 1388.8,1126.2 1391.3,1128.3 1393.8,1130.3 1396.4,1132.6 1398.9,1134.5 1401.4,1136.2 1404.0,1138.0 1406.5,1139.9 1409.1,1141.9 1411.6,1143.5 1414.1,1145.1 1416.7,1146.7 1419.2,1148.2 1421.7,1150.0 1424.3,1151.4 1426.8,1153.0 1429.4,1154.6 1431.9,1156.0 1434.4,1157.3 1437.0,1158.8 1439.5,1160.0 1442.0,1161.2 1444.6,1162.5 1447.1,1163.8 1449.7,1165.3 1452.2,1166.5 1454.7,1167.6 1457.3,1168.6 1459.8,1170.1 1462.3,1171.3 1464.9,1172.5 1467.4,1173.5 1470.0,1174.5 1472.5,1175.2 1475.0,1176.1 1477.6,1177.3 1480.1,1178.1 1482.6,1179.0 1485.2,1180.2 1487.7,1180.8 1490.3,1182.0 1492.8,1182.7 1495.3,1183.5 1497.9,1184.3 1500.4,1185.2 1502.9,1186.0 1505.5,1186.8 1508.0,1187.9 1510.5,1188.3 1513.1,1189.0 1515.6,1190.0 1518.2,1190.7 1520.7,1191.2 1523.2,1191.6 1525.8,1192.2 1528.3,1193.2 1530.8,1194.0 1533.4,1194.4 1535.9,1194.8 1538.5,1195.2 1541.0,1195.9 1543.5,1196.7 1546.1,1197.3 1548.6,1197.6 1551.1,1198.2 1553.7,1198.5 1556.2,1199.1 1558.8,1199.5 1561.3,1200.2 1563.8,1200.8 1566.4,1201.1 1568.9,1201.6 1571.4,1202.0 1574.0,1202.3 1576.5,1202.9 1579.1,1203.2 1581.6,1203.6 1584.1,1204.0 1586.7,1204.4 1589.2,1204.8 1591.7,1205.3 1594.3,1205.8 1596.8,1206.2 1599.4,1206.4 1601.9,1206.4 1604.4,1206.8 1607.0,1207.3 1609.5,1207.9 1612.0,1208.2 1614.6,1208.3 1617.1,1208.5 1619.7,1208.7 1622.2,1209.1 1624.7,1209.5 1627.3,1209.9 1629.8,1210.1 1632.3,1210.4 1634.9,1210.5 1637.4,1210.9 1640.0,1211.2 1642.5,1211.5 1645.0,1211.8 1647.6,1211.9 1650.1,1212.0 1652.6,1212.4 1655.2,1212.9 1657.7,1213.1 1660.2,1213.2 1662.8,1213.6 1665.3,1213.6 1667.9,1213.8 1670.4,1214.5 1672.9,1214.6 1675.5,1214.5 1678.0,1214.8 1680.5,1215.3 1683.1,1215.7 1685.6,1215.7 1688.2,1215.9 1690.7,1216.2 1693.2,1216.3 1695.8,1216.2 1698.3,1216.7 1700.8,1217.1 1703.4,1217.4 1705.9,1217.6 1708.5,1217.5 1711.0,1217.5 1713.5,1217.7 1716.1,1218.1 1718.6,1218.3 1721.1,1218.4 1723.7,1218.5 1726.2,1218.8 1728.8,1218.9 1731.3,1219.2 1733.8,1219.7 1736.4,1219.9 1738.9,1219.4 1741.4,1219.6 1744.0,1219.9 1746.5,1220.1 1749.1,1220.4 1751.6,1220.7 1754.1,1220.7 1756.7,1220.6 1759.2,1220.8 1761.7,1221.3 1764.3,1221.5 1766.8,1221.4 1769.4,1221.9 1771.9,1222.0 1774.4,1222.2 1777.0,1222.3 1779.5,1222.1 1782.0,1222.4 1784.6,1222.5 1787.1,1222.5 1789.7,1222.7 1792.2,1222.6 1794.7,1223.0 1797.3,1223.0 1799.8,1223.0 1802.3,1223.0 1804.9,1223.5 1807.4,1223.9 1810.0,1223.8 1812.5,1223.8 1815.0,1224.1 1817.6,1224.2 1820.1,1224.2 1822.6,1224.3 1825.2,1224.2 1827.7,1224.3 1830.2,1224.7 1832.8,1224.9 1835.3,1224.8 1837.9,1224.8 1840.4,1225.2 1842.9,1225.5 1845.5,1225.2 1848.0,1225.0 1850.5,1225.4 1853.1,1225.6 1855.6,1225.5 1858.2,1225.8 1860.7,1225.7 1863.2,1225.8 1865.8,1226.0 1868.3,1225.9 1870.8,1225.9 1873.4,1226.1 1875.9,1226.2 1878.5,1226.4 1881.0,1226.3 1883.5,1226.3 1886.1,1226.5 1888.6,1226.8 1891.1,1226.8 1893.7,1226.6 1896.2,1226.8 1898.8,1227.0 1901.3,1227.1 1903.8,1227.0 1906.4,1227.0 1908.9,1227.1 1911.4,1226.9 1914.0,1226.9 1916.5,1227.1 1919.1,1227.7 1921.6,1227.6 1924.1,1227.4 1926.7,1227.3 1929.2,1227.5 1931.7,1227.6 1934.3,1227.6 1936.8,1227.6 1939.4,1227.7 1941.9,1227.8 1944.4,1227.8 1947.0,1227.8 1949.5,1227.9 1952.0,1228.0 1954.6,1227.9 1957.1,1227.8 1959.7,1227.9 1962.2,1227.9 1964.7,1228.0 1967.3,1228.1 1969.8,1228.1 1972.3,1228.3 1974.9,1228.4 1977.4,1228.5 1979.9,1228.4 1982.5,1228.2 1985.0,1228.3 1987.6,1228.3 1990.1,1228.3 1992.6,1228.7 1995.2,1228.6 1997.7,1228.4 2000.2,1228.4 2002.8,1228.5 2005.3,1228.4 2007.9,1228.7 2010.4,1228.8 2012.9,1229.0 2015.5,1229.0 2018.0,1229.0 2020.5,1228.7 2023.1,1228.4 2025.6,1228.6 2028.2,1228.8 2030.7,1228.9 2033.2,1229.0 2035.8,1229.0 2038.3,1228.9 2040.8,1228.8 2043.4,1228.7 2045.9,1228.9 2048.5,1229.0 2051.0,1229.2 2053.5,1229.0 2056.1,1228.9 2058.6,1229.0 2061.1,1228.9 2063.7,1228.9 2066.2,1228.7 2068.8,1228.9 2071.3,1229.0 2073.8,1229.0 2076.4,1229.1 2078.9,1229.0 2081.4,1229.3 2084.0,1229.3 2086.5,1229.2 2089.1,1229.2 2091.6,1229.2 2094.1,1229.2 2096.7,1229.2 2099.2,1229.0 2101.7,1229.0 2104.3,1229.0 2106.8,1229.1 2109.4,1229.3 2111.9,1229.2 2114.4,1229.2 2117.0,1229.4 2119.5,1229.3 2122.0,1229.2 2124.6,1229.3 2127.1,1229.2 2129.7,1229.3 2132.2,1229.3 2134.7,1229.1 2137.3,1228.8 2139.8,1229.1 2142.3,1229.1 2144.9,1229.2 2147.4,1229.3 2149.9,1229.0 2152.5,1229.1 2155.0,1229.2 2157.6,1229.0 2160.1,1229.4 2162.6,1229.5 2165.2,1229.6 2167.7,1229.7 2170.2,1229.6 2172.8,1229.8 2175.3,1229.5 2177.9,1229.5 2180.4,1229.5 2182.9,1229.6 2185.5,1229.7 2188.0,1229.7 2190.5,1229.4 2193.1,1229.5 2195.6,1229.7 2198.2,1229.7 2200.7,1229.5 2203.2,1229.3 2205.8,1229.5 2208.3,1229.6 2210.8,1229.7 2213.4,1229.6 2215.9,1229.8 2218.5,1229.8 2221.0,1229.6 2223.5,1229.7 2226.1,1229.7 2228.6,1229.8 2231.1,1229.9 2233.7,1230.2 2236.2,1230.1 2238.8,1229.8 2241.3,1229.6 2243.8,1229.8 2246.4,1229.9 2248.9,1230.0 2251.4,1229.8 2254.0,1230.1 2256.5,1230.2 2259.1,1230.1 2261.6,1230.1 2264.1,1229.9 2266.7,1230.0 2269.2,1230.1 2271.7,1230.1 2274.3,1230.2 2276.8,1230.2 2279.4,1230.5 2281.9,1230.5 2284.4,1230.4 2287.0,1230.3 2289.5,1230.3 2292.0,1230.3 2294.6,1230.5 2297.1,1230.8 2299.6,1230.8 2302.2,1230.6 2304.7,1230.3 2307.3,1230.7 2309.8,1230.9 2312.3,1231.0 2314.9,1230.9 2317.4,1230.9 2319.9,1231.0 2322.5,1231.1 2325.0,1231.1 2327.6,1231.3 2330.1,1231.4 2332.6,1231.3 2335.2,1231.3 2337.7,1231.6 2340.2,1231.6 2342.8,1231.4 2345.3,1231.6 2347.9,1231.7 2350.4,1231.8 2352.9,1231.9 2355.5,1231.8 2358.0,1232.0 2360.5,1231.9 2363.1,1231.9 2365.6,1232.1 2368.2,1232.3 2370.7,1232.5 2373.2,1232.6 2375.8,1232.6 2378.3,1232.5 2380.8,1232.4 2383.4,1232.7 2385.9,1233.1 2388.5,1233.1 2391.0,1232.8 2393.5,1232.9 2396.1,1233.2 2398.6,1233.4 2400.0,1233.3"/>
<polyline class="cv" stroke="#FF00FF" points="861.0,693.8 863.5,695.0 866.1,694.8 868.6,695.2 871.1,696.1 873.7,697.2 876.2,698.7 878.8,700.8 881.3,702.9 883.8,703.8 886.4,704.6 888.9,704.8 891.4,706.6 894.0,708.5 896.5,708.8 899.1,708.5 901.6,709.4 904.1,710.9 906.7,711.8 909.2,713.3 911.7,715.4 914.3,716.0 916.8,716.2 919.4,717.1 921.9,718.2 924.4,718.9 927.0,719.5 929.5,720.3 932.0,721.2 934.6,721.9 937.1,722.6 939.7,723.5 942.2,724.5 944.7,725.7 947.3,726.3 949.8,727.4 952.3,728.1 954.9,728.5 957.4,728.8 960.0,729.2 962.5,730.0 965.0,731.0 967.6,731.3 970.1,731.5 972.6,732.2 975.2,733.1 977.7,733.1 980.3,733.5 982.8,733.8 985.3,734.7 987.9,735.2 990.4,734.7 992.9,735.3 995.5,735.3 998.0,735.2 1000.6,735.5 1003.1,735.2 1005.6,735.3 1008.2,735.1 1010.7,734.9 1013.2,734.8 1015.8,734.5 1018.3,734.1 1020.8,733.9 1023.4,733.5 1025.9,732.7 1028.5,731.6 1031.0,730.9 1033.5,730.1 1036.1,729.0 1038.6,728.2 1041.1,726.8 1043.7,725.5 1046.2,724.4 1048.8,722.7 1051.3,721.0 1053.8,719.3 1056.4,717.4 1058.9,714.9 1061.4,712.6 1064.0,710.2 1066.5,707.7 1069.1,704.9 1071.6,701.8 1074.1,698.9 1076.7,695.4 1079.2,691.4 1081.7,687.8 1084.3,683.8 1086.8,679.4 1089.4,674.6 1091.9,669.2 1094.4,663.7 1097.0,657.6 1099.5,650.7 1102.0,643.2 1104.6,634.4 1107.1,624.4 1109.7,613.0 1112.2,599.8 1114.7,584.6 1117.3,569.1 1119.8,553.8 1122.3,537.9 1124.9,522.1 1127.4,506.1 1130.0,489.6 1132.5,473.2 1135.0,456.9 1137.6,440.3 1140.1,423.8 1142.6,407.1 1145.2,390.1 1147.7,373.3 1150.3,356.3 1152.8,338.9 1155.3,321.9 1157.9,304.7 1160.4,287.2 1162.9,269.8 1165.5,252.7 1168.0,235.6 1170.6,218.1 1173.1,202.1 1175.6,187.6 1178.2,174.5 1180.7,162.9 1183.2,152.3 1185.8,143.0 1188.3,134.3 1190.8,127.0 1193.4,122.2 1195.9,119.3 1198.5,117.4 1201.0,116.2 1203.5,116.5 1206.1,118.3 1208.6,121.2 1211.1,124.9 1213.7,129.6 1216.2,136.4 1218.8,145.6 1221.3,157.7 1223.8,171.7 1226.4,186.6 1228.9,202.2 1231.4,218.8 1234.0,236.0 1236.5,253.5 1239.1,271.7 1241.6,289.9 1244.1,308.3 1246.7,326.9 1249.2,345.8 1251.7,364.9 1254.3,383.9 1256.8,402.9 1259.4,422.6 1261.9,442.4 1264.4,461.8 1267.0,481.4 1269.5,500.8 1272.0,519.9 1274.6,538.9 1277.1,557.8 1279.7,576.5 1282.2,594.5 1284.7,612.1 1287.3,629.8 1289.8,646.8 1292.3,663.6 1294.9,680.0 1297.4,695.7 1300.0,711.2 1302.5,726.3 1305.0,741.0 1307.6,755.2 1310.1,769.1 1312.6,782.7 1315.2,796.2 1317.7,809.1 1320.3,821.3 1322.8,833.2 1325.3,845.4 1327.9,857.3 1330.4,868.4 1332.9,879.1 1335.5,889.5 1338.0,899.5 1340.5,909.0 1343.1,917.9 1345.6,926.7 1348.2,935.0 1350.7,942.8 1353.2,950.1 1355.8,957.5 1358.3,964.6 1360.8,971.2 1363.4,977.5 1365.9,983.7 1368.5,989.6 1371.0,995.1 1373.5,1000.2 1376.1,1005.7 1378.6,1010.7 1381.1,1015.7 1383.7,1020.4 1386.2,1024.9 1388.8,1029.4 1391.3,1033.7 1393.8,1038.0 1396.4,1042.0 1398.9,1045.9 1401.4,1049.9 1404.0,1053.5 1406.5,1057.0 1409.1,1060.7 1411.6,1063.8 1414.1,1067.3 1416.7,1070.6 1419.2,1073.8 1421.7,1077.1 1424.3,1080.0 1426.8,1082.8 1429.4,1085.8 1431.9,1088.6 1434.4,1091.4 1437.0,1094.2 1439.5,1097.1 1442.0,1099.6 1444.6,1101.8 1447.1,1104.3 1449.7,1106.5 1452.2,1108.9 1454.7,1111.2 1457.3,1113.5 1459.8,1115.4 1462.3,1117.6 1464.9,1120.1 1467.4,1122.0 1470.0,1123.8 1472.5,1125.6 1475.0,1127.4 1477.6,1129.6 1480.1,1131.5 1482.6,1133.0 1485.2,1134.8 1487.7,1136.9 1490.3,1138.3 1492.8,1139.6 1495.3,1141.2 1497.9,1142.7 1500.4,1144.2 1502.9,1145.7 1505.5,1146.9 1508.0,1148.3 1510.5,1149.8 1513.1,1151.1 1515.6,1152.3 1518.2,1153.6 1520.7,1154.7 1523.2,1155.9 1525.8,1156.6 1528.3,1157.8 1530.8,1159.3 1533.4,1160.4 1535.9,1161.4 1538.5,1162.3 1541.0,1163.4 1543.5,1164.3 1546.1,1165.2 1548.6,1166.5 1551.1,1167.1 1553.7,1167.9 1556.2,1169.3 1558.8,1170.2 1561.3,1170.9 1563.8,1171.7 1566.4,1172.6 1568.9,1173.4 1571.4,1174.2 1574.0,1175.1 1576.5,1175.7 1579.1,1176.3 1581.6,1176.9 1584.1,1177.6 1586.7,1178.3 1589.2,1179.0 1591.7,1179.8 1594.3,1180.4 1596.8,1181.3 1599.4,1182.1 1601.9,1182.6 1604.4,1183.4 1607.0,1184.1 1609.5,1184.4 1612.0,1185.0 1614.6,1185.7 1617.1,1186.2 1619.7,1186.9 1622.2,1187.4 1624.7,1188.0 1627.3,1188.9 1629.8,1189.3 1632.3,1189.6 1634.9,1190.3 1637.4,1191.0 1640.0,1191.3 1642.5,1191.8 1645.0,1192.3 1647.6,1192.9 1650.1,1193.7 1652.6,1194.1 1655.2,1194.4 1657.7,1194.8 1660.2,1195.2 1662.8,1195.9 1665.3,1196.1 1667.9,1196.6 1670.4,1197.3 1672.9,1197.8 1675.5,1197.7 1678.0,1198.2 1680.5,1199.1 1683.1,1199.5 1685.6,1199.5 1688.2,1200.0 1690.7,1200.4 1693.2,1200.5 1695.8,1201.1 1698.3,1201.4 1700.8,1201.4 1703.4,1202.0 1705.9,1202.6 1708.5,1202.7 1711.0,1202.9 1713.5,1203.3 1716.1,1204.0 1718.6,1204.5 1721.1,1204.6 1723.7,1204.8 1726.2,1205.2 1728.8,1205.5 1731.3,1205.9 1733.8,1206.0 1736.4,1206.1 1738.9,1206.3 1741.4,1206.5 1744.0,1206.9 1746.5,1207.1 1749.1,1207.5 1751.6,1207.8 1754.1,1208.2 1756.7,1208.5 1759.2,1208.6 1761.7,1208.6 1764.3,1209.0 1766.8,1209.5 1769.4,1209.6 1771.9,1209.7 1774.4,1209.9 1777.0,1210.4 1779.5,1210.7 1782.0,1210.8 1784.6,1210.9 1787.1,1211.1 1789.7,1211.2 1792.2,1211.2 1794.7,1211.4 1797.3,1211.6 1799.8,1211.8 1802.3,1211.8 1804.9,1212.1 1807.4,1212.5 1810.0,1212.6 1812.5,1212.7 1815.0,1212.7 1817.6,1213.0 1820.1,1213.3 1822.6,1213.3 1825.2,1213.3 1827.7,1213.6 1830.2,1214.1 1832.8,1214.1 1835.3,1214.1 1837.9,1214.1 1840.4,1214.2 1842.9,1214.7 1845.5,1214.7 1848.0,1214.4 1850.5,1214.8 1853.1,1215.3 1855.6,1215.2 1858.2,1215.1 1860.7,1215.5 1863.2,1215.6 1865.8,1215.7 1868.3,1215.8 1870.8,1215.9 1873.4,1215.9 1875.9,1216.1 1878.5,1216.3 1881.0,1216.2 1883.5,1216.1 1886.1,1216.4 1888.6,1216.8 1891.1,1216.6 1893.7,1216.7 1896.2,1217.0 1898.8,1217.1 1901.3,1217.4 1903.8,1217.3 1906.4,1217.3 1908.9,1217.6 1911.4,1217.8 1914.0,1217.8 1916.5,1217.9 1919.1,1218.0 1921.6,1218.1 1924.1,1218.2 1926.7,1218.3 1929.2,1218.3 1931.7,1218.2 1934.3,1218.2 1936.8,1218.5 1939.4,1218.4 1941.9,1218.3 1944.4,1218.7 1947.0,1218.8 1949.5,1218.9 1952.0,1219.0 1954.6,1218.8 1957.1,1219.0 1959.7,1219.3 1962.2,1219.3 1964.7,1219.6 1967.3,1219.5 1969.8,1219.7 1972.3,1219.9 1974.9,1220.0 1977.4,1220.0 1979.9,1220.2 1982.5,1220.2 1985.0,1220.1 1987.6,1220.1 1990.1,1220.3 1992.6,1220.5 1995.2,1220.7 1997.7,1220.7 2000.2,1220.7 2002.8,1220.7 2005.3,1220.9 2007.9,1221.0 2010.4,1221.0 2012.9,1221.3 2015.5,1221.3 2018.0,1221.3 2020.5,1221.5 2023.1,1221.7 2025.6,1221.5 2028.2,1221.5 2030.7,1221.8 2033.2,1221.9 2035.8,1222.1 2038.3,1222.4 2040.8,1222.5 2043.4,1222.6 2045.9,1222.7 2048.5,1222.4 2051.0,1222.4 2053.5,1222.6 2056.1,1222.5 2058.6,1223.0 2061.1,1223.1 2063.7,1222.8 2066.2,1222.9 2068.8,1223.2 2071.3,1223.4 2073.8,1223.4 2076.4,1223.7 2078.9,1223.5 2081.4,1223.4 2084.0,1223.7 2086.5,1223.9 2089.1,1224.0 2091.6,1224.0 2094.1,1224.0 2096.7,1224.2 2099.2,1224.5 2101.7,1224.2 2104.3,1224.2 2106.8,1224.4 2109.4,1224.6 2111.9,1224.6 2114.4,1224.5 2117.0,1224.5 2119.5,1224.6 2122.0,1224.8 2124.6,1225.0 2127.1,1225.3 2129.7,1225.3 2132.2,1225.1 2134.7,1225.2 2137.3,1225.3 2139.8,1225.5 2142.3,1225.5 2144.9,1225.6 2147.4,1225.7 2149.9,1225.7 2152.5,1225.6 2155.0,1225.8 2157.6,1225.9 2160.1,1225.9 2162.6,1225.8 2165.2,1225.6 2167.7,1225.9 2170.2,1226.3 2172.8,1226.4 2175.3,1226.3 2177.9,1226.4 2180.4,1226.7 2182.9,1226.5 2185.5,1226.4 2188.0,1226.6 2190.5,1226.8 2193.1,1227.0 2195.6,1227.0 2198.2,1227.3 2200.7,1227.4 2203.2,1227.1 2205.8,1227.1 2208.3,1227.5 2210.8,1227.6 2213.4,1227.7 2215.9,1227.4 2218.5,1227.5 2221.0,1227.5 2223.5,1227.6 2226.1,1227.9 2228.6,1228.0 2231.1,1227.9 2233.7,1227.8 2236.2,1227.8 2238.8,1228.1 2241.3,1228.2 2243.8,1228.2 2246.4,1228.1 2248.9,1228.3 2251.4,1228.4 2254.0,1228.5 2256.5,1228.5 2259.1,1228.4 2261.6,1228.7 2264.1,1228.8 2266.7,1228.6 2269.2,1228.7 2271.7,1228.7 2274.3,1228.5 2276.8,1228.6 2279.4,1228.8 2281.9,1229.0 2284.4,1229.1 2287.0,1228.9 2289.5,1228.8 2292.0,1229.1 2294.6,1229.1 2297.1,1229.2 2299.6,1229.2 2302.2,1229.3 2304.7,1229.2 2307.3,1229.3 2309.8,1229.4 2312.3,1229.4 2314.9,1229.5 2317.4,1229.6 2319.9,1229.6 2322.5,1229.4 2325.0,1229.5 2327.6,1229.6 2330.1,1229.3 2332.6,1229.4 2335.2,1229.7 2337.7,1229.7 2340.2,1229.9 2342.8,1229.9 2345.3,1230.0 2347.9,1229.9 2350.4,1229.7 2352.9,1229.4 2355.5,1229.6 2358.0,1230.1 2360.5,1229.9 2363.1,1230.0 2365.6,1229.9 2368.2,1229.8 2370.7,1229.9 2373.2,1229.9 2375.8,1229.9 2378.3,1229.8 2380.8,1230.0 2383.4,1230.1 2385.9,1230.2 2388.5,1230.0 2391.0,1230.2 2393.5,1230.4 2396.1,1230.2 2398.6,1230.2 2400.0,1230.3"/>
<polyline class="cv" stroke="#FF8000" points="861.0,751.4 863.5,752.4 866.1,753.0 868.6,753.5 871.1,754.2 873.7,756.3 876.2,757.5 878.8,757.1 881.3,757.4 883.8,758.4 886.4,757.4 888.9,758.2 891.4,760.0 894.0,761.1 896.5,761.8 899.1,761.4 901.6,762.3 904.1,762.8 906.7,762.9 909.2,763.8 911.7,765.2 914.3,765.8 916.8,766.0 919.4,766.1 921.9,766.4 924.4,767.2 927.0,767.8 929.5,768.3 932.0,768.4 934.6,768.9 937.1,769.2 939.7,769.6 942.2,770.2 944.7,770.7 947.3,771.1 949.8,771.2 952.3,771.9 954.9,772.1 957.4,772.5 960.0,773.0 962.5,773.0 965.0,773.6 967.6,774.3 970.1,775.1 972.6,775.6 975.2,775.6 977.7,775.8 980.3,776.5 982.8,777.4 985.3,777.6 987.9,777.9 990.4,778.6 992.9,778.8 995.5,779.0 998.0,779.1 1000.6,779.7 1003.1,780.1 1005.6,780.2 1008.2,780.0 1010.7,780.6 1013.2,780.6 1015.8,780.0 1018.3,780.4 1020.8,780.5 1023.4,780.7 1025.9,780.3 1028.5,780.0 1031.0,779.7 1033.5,779.3 1036.1,778.6 1038.6,778.2 1041.1,777.8 1043.7,776.8 1046.2,775.9 1048.8,775.3 1051.3,774.7 1053.8,773.6 1056.4,772.3 1058.9,771.0 1061.4,769.6 1064.0,768.0 1066.5,766.0 1069.1,764.2 1071.6,762.2 1074.1,759.7 1076.7,757.1 1079.2,754.7 1081.7,752.2 1084.3,749.4 1086.8,746.0 1089.4,742.6 1091.9,738.8 1094.4,734.6 1097.0,730.5 1099.5,725.6 1102.0,720.5 1104.6,714.8 1107.1,708.7 1109.7,702.2 1112.2,695.3 1114.7,688.4 1117.3,681.3 1119.8,673.1 1122.3,664.5 1124.9,655.4 1127.4,646.1 1130.0,636.4 1132.5,625.9 1135.0,614.8 1137.6,603.2 1140.1,591.3 1142.6,579.0 1145.2,566.6 1147.7,554.6 1150.3,542.2 1152.8,529.7 1155.3,516.9 1157.9,503.7 1160.4,490.8 1162.9,477.8 1165.5,464.8 1168.0,451.6 1170.6,438.5 1173.1,425.4 1175.6,412.4 1178.2,399.3 1180.7,386.5 1183.2,373.7 1185.8,361.0 1188.3,348.4 1190.8,336.2 1193.4,324.0 1195.9,312.0 1198.5,300.1 1201.0,288.8 1203.5,279.0 1206.1,270.0 1208.6,261.9 1211.1,255.2 1213.7,248.6 1216.2,241.5 1218.8,234.2 1221.3,229.1 1223.8,226.2 1226.4,224.7 1228.9,223.6 1231.4,222.7 1234.0,222.7 1236.5,223.4 1239.1,224.8 1241.6,226.8 1244.1,229.8 1246.7,233.4 1249.2,237.7 1251.7,242.9 1254.3,249.5 1256.8,257.9 1259.4,267.5 1261.9,277.6 1264.4,287.7 1267.0,297.9 1269.5,308.1 1272.0,318.5 1274.6,328.9 1277.1,340.0 1279.7,350.7 1282.2,361.7 1284.7,373.1 1287.3,385.0 1289.8,397.4 1292.3,410.0 1294.9,422.5 1297.4,435.4 1300.0,448.9 1302.5,462.4 1305.0,476.1 1307.6,490.4 1310.1,504.6 1312.6,518.5 1315.2,532.9 1317.7,547.2 1320.3,561.4 1322.8,575.6 1325.3,589.2 1327.9,602.9 1330.4,616.6 1332.9,629.9 1335.5,642.8 1338.0,655.5 1340.5,667.8 1343.1,679.9 1345.6,691.8 1348.2,703.1 1350.7,714.0 1353.2,724.8 1355.8,735.3 1358.3,745.5 1360.8,755.5 1363.4,764.7 1365.9,773.8 1368.5,782.9 1371.0,791.5 1373.5,800.3 1376.1,808.9 1378.6,816.6 1381.1,824.4 1383.7,832.0 1386.2,839.6 1388.8,847.1 1391.3,853.9 1393.8,861.0 1396.4,867.9 1398.9,874.5 1401.4,880.9 1404.0,887.1 1406.5,893.2 1409.1,899.1 1411.6,905.0 1414.1,910.9 1416.7,916.3 1419.2,921.8 1421.7,927.0 1424.3,932.1 1426.8,936.7 1429.4,941.7 1431.9,946.7 1434.4,951.4 1437.0,955.6 1439.5,959.4 1442.0,964.0 1444.6,968.2 1447.1,972.0 1449.7,975.9 1452.2,979.8 1454.7,983.4 1457.3,986.8 1459.8,990.5 1462.3,994.0 1464.9,997.3 1467.4,1000.5 1470.0,1003.6 1472.5,1006.8 1475.0,1010.0 1477.6,1012.9 1480.1,1016.0 1482.6,1018.9 1485.2,1021.7 1487.7,1024.5 1490.3,1027.1 1492.8,1029.8 1495.3,1032.5 1497.9,1035.1 1500.4,1037.5 1502.9,1040.1 1505.5,1042.4 1508.0,1044.6 1510.5,1046.8 1513.1,1049.1 1515.6,1051.5 1518.2,1053.7 1520.7,1056.2 1523.2,1058.2 1525.8,1060.1 1528.3,1062.1 1530.8,1064.0 1533.4,1065.9 1535.9,1068.0 1538.5,1069.8 1541.0,1071.5 1543.5,1073.4 1546.1,1075.5 1548.6,1077.2 1551.1,1078.8 1553.7,1080.5 1556.2,1082.3 1558.8,1083.8 1561.3,1085.2 1563.8,1086.8 1566.4,1088.4 1568.9,1090.0 1571.4,1090.9 1574.0,1092.3 1576.5,1094.1 1579.1,1095.6 1581.6,1096.8 1584.1,1098.0 1586.7,1099.6 1589.2,1101.0 1591.7,1102.3 1594.3,1103.4 1596.8,1104.7 1599.4,1106.0 1601.9,1107.1 1604.4,1108.2 1607.0,1109.5 1609.5,1110.6 1612.0,1111.8 1614.6,1113.0 1617.1,1114.3 1619.7,1115.3 1622.2,1116.4 1624.7,1117.4 1627.3,1118.3 1629.8,1119.2 1632.3,1120.0 1634.9,1121.3 1637.4,1122.1 1640.0,1122.9 1642.5,1124.0 1645.0,1125.0 1647.6,1126.0 1650.1,1127.1 1652.6,1127.7 1655.2,1128.4 1657.7,1129.3 1660.2,1130.3 1662.8,1131.3 1665.3,1132.0 1667.9,1132.6 1670.4,1133.5 1672.9,1134.4 1675.5,1135.2 1678.0,1135.7 1680.5,1136.7 1683.1,1137.5 1685.6,1138.1 1688.2,1138.7 1690.7,1139.5 1693.2,1140.5 1695.8,1140.9 1698.3,1141.7 1700.8,1142.3 1703.4,1142.9 1705.9,1143.6 1708.5,1144.3 1711.0,1144.9 1713.5,1145.6 1716.1,1146.2 1718.6,1146.8 1721.1,1147.5 1723.7,1147.9 1726.2,1148.3 1728.8,1149.1 1731.3,1149.8 1733.8,1150.4 1736.4,1150.8 1738.9,1151.1 1741.4,1151.8 1744.0,1152.4 1746.5,1153.2 1749.1,1153.7 1751.6,1154.0 1754.1,1154.7 1756.7,1155.5 1759.2,1155.7 1761.7,1156.0 1764.3,1156.7 1766.8,1157.6 1769.4,1157.9 1771.9,1157.9 1774.4,1158.5 1777.0,1159.1 1779.5,1159.6 1782.0,1160.3 1784.6,1160.5 1787.1,1161.1 1789.7,1161.6 1792.2,1161.8 1794.7,1162.1 1797.3,1162.7 1799.8,1163.2 1802.3,1163.6 1804.9,1164.0 1807.4,1164.5 1810.0,1165.0 1812.5,1165.3 1815.0,1165.9 1817.6,1166.3 1820.1,1166.5 1822.6,1166.8 1825.2,1167.5 1827.7,1167.9 1830.2,1168.4 1832.8,1168.9 1835.3,1169.2 1837.9,1169.6 1840.4,1169.7 1842.9,1170.0 1845.5,1170.5 1848.0,1170.8 1850.5,1171.5 1853.1,1171.8 1855.6,1171.9 1858.2,1172.4 1860.7,1173.1 1863.2,1173.2 1865.8,1173.5 1868.3,1174.0 1870.8,1174.3 1873.4,1174.6 1875.9,1174.7 1878.5,1175.0 1881.0,1175.4 1883.5,1175.8 1886.1,1176.0 1888.6,1176.3 1891.1,1176.5 1893.7,1176.9 1896.2,1177.3 1898.8,1177.5 1901.3,1178.1 1903.8,1178.3 1906.4,1178.3 1908.9,1178.5 1911.4,1178.8 1914.0,1179.0 1916.5,1179.3 1919.1,1179.7 1921.6,1179.8 1924.1,1180.1 1926.7,1180.4 1929.2,1180.7 1931.7,1181.1 1934.3,1181.1 1936.8,1181.1 1939.4,1181.5 1941.9,1182.1 1944.4,1182.6 1947.0,1182.3 1949.5,1182.5 1952.0,1182.8 1954.6,1182.8 1957.1,1183.0 1959.7,1183.4 1962.2,1183.6 1964.7,1183.7 1967.3,1184.1 1969.8,1184.4 1972.3,1184.5 1974.9,1184.7 1977.4,1184.7 1979.9,1184.8 1982.5,1185.1 1985.0,1185.5 1987.6,1185.9 1990.1,1186.0 1992.6,1186.3 1995.2,1186.3 1997.7,1186.3 2000.2,1186.3 2002.8,1186.8 2005.3,1187.2 2007.9,1187.1 2010.4,1187.3 2012.9,1187.6 2015.5,1187.5 2018.0,1187.5 2020.5,1187.9 2023.1,1188.1 2025.6,1188.1 2028.2,1188.5 2030.7,1189.0 2033.2,1188.8 2035.8,1188.8 2038.3,1189.1 2040.8,1189.3 2043.4,1189.3 2045.9,1189.6 2048.5,1189.9 2051.0,1189.9 2053.5,1190.1 2056.1,1190.1 2058.6,1190.2 2061.1,1190.5 2063.7,1190.4 2066.2,1190.7 2068.8,1191.0 2071.3,1191.0 2073.8,1191.0 2076.4,1191.1 2078.9,1191.1 2081.4,1191.4 2084.0,1191.6 2086.5,1191.5 2089.1,1191.7 2091.6,1192.0 2094.1,1192.2 2096.7,1192.2 2099.2,1192.2 2101.7,1192.4 2104.3,1192.6 2106.8,1192.5 2109.4,1192.3 2111.9,1192.7 2114.4,1192.7 2117.0,1192.7 2119.5,1193.2 2122.0,1193.1 2124.6,1193.0 2127.1,1193.3 2129.7,1193.3 2132.2,1193.3 2134.7,1193.1 2137.3,1193.2 2139.8,1193.5 2142.3,1193.9 2144.9,1194.0 2147.4,1193.7 2149.9,1193.8 2152.5,1194.3 2155.0,1194.2 2157.6,1194.4 2160.1,1194.6 2162.6,1194.6 2165.2,1194.4 2167.7,1194.5 2170.2,1194.7 2172.8,1195.0 2175.3,1195.1 2177.9,1195.0 2180.4,1195.1 2182.9,1195.2 2185.5,1195.4 2188.0,1195.5 2190.5,1195.3 2193.1,1195.3 2195.6,1195.7 2198.2,1195.5 2200.7,1195.8 2203.2,1195.9 2205.8,1195.7 2208.3,1195.9 2210.8,1196.0 2213.4,1196.1 2215.9,1196.2 2218.5,1196.2 2221.0,1196.1 2223.5,1196.4 2226.1,1196.7 2228.6,1196.7 2231.1,1196.9 2233.7,1196.9 2236.2,1197.1 2238.8,1197.2 2241.3,1197.2 2243.8,1197.1 2246.4,1197.1 2248.9,1197.3 2251.4,1197.6 2254.0,1197.6 2256.5,1197.6 2259.1,1197.6 2261.6,1197.6 2264.1,1197.9 2266.7,1198.1 2269.2,1197.9 2271.7,1198.0 2274.3,1198.5 2276.8,1198.2 2279.4,1198.1 2281.9,1198.3 2284.4,1198.4 2287.0,1198.4 2289.5,1198.7 2292.0,1198.8 2294.6,1199.0 2297.1,1199.1 2299.6,1199.1 2302.2,1199.3 2304.7,1199.4 2307.3,1199.5 2309.8,1199.5 2312.3,1199.4 2314.9,1199.5 2317.4,1199.6 2319.9,1199.8 2322.5,1199.9 2325.0,1199.9 2327.6,1200.0 2330.1,1200.0 2332.6,1200.2 2335.2,1200.6 2337.7,1200.9 2340.2,1200.7 2342.8,1200.8 2345.3,1201.1 2347.9,1201.1 2350.4,1201.1 2352.9,1201.4 2355.5,1201.4 2358.0,1201.5 2360.5,1201.4 2363.1,1201.5 2365.6,1201.9 2368.2,1202.2 2370.7,1202.2 2373.2,1202.0 2375.8,1202.0 2378.3,1202.3 2380.8,1202.6 2383.4,1202.7 2385.9,1202.8 2388.5,1203.0 2391.0,1203.1 2393.5,1203.0 2396.1,1203.3 2398.6,1203.2 2400.0,1203.1"/>
<polyline class="cv" stroke="#00FF00" points="861.0,787.7 863.5,786.8 866.1,788.9 868.6,788.9 871.1,787.8 873.7,788.5 876.2,788.9 878.8,789.4 881.3,789.6 883.8,790.0 886.4,789.5 888.9,789.5 891.4,790.2 894.0,790.6 896.5,790.8 899.1,791.5 901.6,791.5 904.1,791.5 906.7,791.4 909.2,790.7 911.7,791.4 914.3,792.4 916.8,792.4 919.4,792.3 921.9,792.5 924.4,793.0 927.0,792.7 929.5,792.9 932.0,793.4 934.6,793.9 937.1,793.3 939.7,793.5 942.2,793.9 944.7,795.0 947.3,795.6 949.8,795.0 952.3,795.1 954.9,795.7 957.4,796.1 960.0,796.9 962.5,797.5 965.0,797.5 967.6,797.7 970.1,798.3 972.6,798.4 975.2,798.6 977.7,799.1 980.3,799.3 982.8,799.4 985.3,800.0 987.9,800.4 990.4,800.9 992.9,801.0 995.5,801.3 998.0,801.5 1000.6,801.8 1003.1,802.0 1005.6,802.3 1008.2,802.6 1010.7,803.0 1013.2,803.1 1015.8,802.9 1018.3,803.1 1020.8,803.7 1023.4,804.0 1025.9,803.7 1028.5,804.0 1031.0,804.2 1033.5,803.8 1036.1,804.0 1038.6,804.3 1041.1,804.3 1043.7,804.4 1046.2,804.1 1048.8,803.5 1051.3,803.3 1053.8,803.1 1056.4,802.4 1058.9,802.0 1061.4,801.3 1064.0,800.4 1066.5,799.6 1069.1,798.6 1071.6,797.0 1074.1,795.8 1076.7,794.3 1079.2,792.4 1081.7,790.5 1084.3,788.4 1086.8,785.8 1089.4,782.8 1091.9,779.7 1094.4,776.5 1097.0,773.0 1099.5,768.8 1102.0,765.0 1104.6,760.7 1107.1,756.2 1109.7,751.7 1112.2,746.7 1114.7,741.4 1117.3,736.1 1119.8,730.3 1122.3,724.0 1124.9,717.5 1127.4,710.8 1130.0,703.5 1132.5,696.2 1135.0,688.1 1137.6,679.3 1140.1,670.6 1142.6,661.6 1145.2,652.0 1147.7,642.6 1150.3,632.9 1152.8,622.7 1155.3,612.4 1157.9,601.9 1160.4,591.6 1162.9,580.7 1165.5,569.5 1168.0,558.5 1170.6,547.4 1173.1,536.0 1175.6,524.9 1178.2,513.4 1180.7,502.1 1183.2,491.0 1185.8,479.7 1188.3,468.6 1190.8,457.3 1193.4,446.2 1195.9,435.7 1198.5,425.2 1201.0,414.8 1203.5,404.4 1206.1,394.3 1208.6,384.6 1211.1,375.0 1213.7,365.7 1216.2,356.5 1218.8,347.7 1221.3,339.3 1223.8,332.0 1226.4,325.2 1228.9,318.8 1231.4,313.0 1234.0,307.7 1236.5,302.7 1239.1,298.4 1241.6,294.7 1244.1,290.8 1246.7,287.2 1249.2,284.0 1251.7,281.1 1254.3,278.3 1256.8,275.9 1259.4,274.2 1261.9,273.0 1264.4,271.9 1267.0,271.4 1269.5,271.9 1272.0,272.7 1274.6,273.7 1277.1,275.3 1279.7,277.5 1282.2,279.9 1284.7,282.3 1287.3,285.0 1289.8,289.0 1292.3,293.4 1294.9,298.4 1297.4,304.2 1300.0,311.0 1302.5,318.5 1305.0,326.2 1307.6,334.1 1310.1,341.8 1312.6,349.7 1315.2,357.4 1317.7,365.5 1320.3,373.9 1322.8,382.2 1325.3,390.6 1327.9,398.8 1330.4,407.0 1332.9,415.4 1335.5,424.2 1338.0,433.0 1340.5,441.3 1343.1,449.9 1345.6,458.7 1348.2,467.7 1350.7,476.5 1353.2,485.5 1355.8,494.4 1358.3,503.2 1360.8,512.1 1363.4,521.0 1365.9,529.9 1368.5,538.9 1371.0,547.7 1373.5,556.5 1376.1,565.4 1378.6,574.0 1381.1,582.8 1383.7,591.8 1386.2,600.5 1388.8,609.2 1391.3,617.5 1393.8,626.2 1396.4,634.6 1398.9,642.7 1401.4,650.9 1404.0,659.2 1406.5,667.3 1409.1,675.4 1411.6,683.5 1414.1,691.3 1416.7,698.7 1419.2,706.4 1421.7,714.2 1424.3,721.4 1426.8,729.0 1429.4,736.1 1431.9,743.0 1434.4,750.3 1437.0,757.1 1439.5,764.0 1442.0,771.0 1444.6,777.4 1447.1,783.9 1449.7,790.5 1452.2,796.8 1454.7,803.1 1457.3,809.7 1459.8,815.6 1462.3,821.3 1464.9,827.3 1467.4,833.2 1470.0,839.1 1472.5,844.6 1475.0,850.0 1477.6,855.8 1480.1,861.3 1482.6,866.8 1485.2,871.6 1487.7,876.9 1490.3,882.3 1492.8,887.0 1495.3,891.8 1497.9,896.8 1500.4,901.5 1502.9,906.3 1505.5,911.0 1508.0,915.5 1510.5,919.9 1513.1,924.5 1515.6,928.9 1518.2,932.8 1520.7,936.9 1523.2,941.1 1525.8,945.3 1528.3,949.2 1530.8,952.7 1533.4,956.7 1535.9,960.9 1538.5,964.6 1541.0,968.2 1543.5,971.8 1546.1,975.1 1548.6,978.5 1551.1,982.1 1553.7,985.6 1556.2,988.7 1558.8,991.8 1561.3,995.1 1563.8,998.1 1566.4,1001.2 1568.9,1004.1 1571.4,1007.0 1574.0,1009.9 1576.5,1012.7 1579.1,1015.7 1581.6,1018.6 1584.1,1021.2 1586.7,1024.1 1589.2,1026.3 1591.7,1028.9 1594.3,1031.6 1596.8,1034.2 1599.4,1036.6 1601.9,1039.1 1604.4,1041.6 1607.0,1043.9 1609.5,1046.3 1612.0,1048.8 1614.6,1050.9 1617.1,1052.9 1619.7,1054.9 1622.2,1057.3 1624.7,1059.7 1627.3,1061.7 1629.8,1063.7 1632.3,1065.9 1634.9,1067.9 1637.4,1069.8 1640.0,1071.5 1642.5,1073.4 1645.0,1075.2 1647.6,1077.2 1650.1,1078.9 1652.6,1080.5 1655.2,1082.6 1657.7,1084.6 1660.2,1086.2 1662.8,1087.8 1665.3,1089.6 1667.9,1091.1 1670.4,1092.6 1672.9,1094.0 1675.5,1095.5 1678.0,1097.1 1680.5,1098.6 1683.1,1100.4 1685.6,1101.9 1688.2,1103.3 1690.7,1104.5 1693.2,1106.0 1695.8,1107.4 1698.3,1108.7 1700.8,1109.9 1703.4,1111.3 1705.9,1112.9 1708.5,1113.9 1711.0,1115.2 1713.5,1116.4 1716.1,1117.8 1718.6,1119.1 1721.1,1120.1 1723.7,1121.2 1726.2,1122.4 1728.8,1123.5 1731.3,1124.5 1733.8,1125.7 1736.4,1126.9 1738.9,1127.8 1741.4,1129.0 1744.0,1130.0 1746.5,1130.9 1749.1,1132.0 1751.6,1132.9 1754.1,1133.8 1756.7,1134.6 1759.2,1135.7 1761.7,1136.6 1764.3,1137.2 1766.8,1138.2 1769.4,1139.2 1771.9,1139.7 1774.4,1140.4 1777.0,1141.4 1779.5,1142.4 1782.0,1143.2 1784.6,1143.9 1787.1,1144.6 1789.7,1145.4 1792.2,1146.2 1794.7,1146.8 1797.3,1147.5 1799.8,1148.0 1802.3,1148.8 1804.9,1149.7 1807.4,1150.4 1810.0,1151.0 1812.5,1151.7 1815.0,1152.5 1817.6,1153.2 1820.1,1153.6 1822.6,1154.0 1825.2,1154.8 1827.7,1155.3 1830.2,1155.8 1832.8,1156.6 1835.3,1157.3 1837.9,1157.8 1840.4,1158.1 1842.9,1158.7 1845.5,1159.5 1848.0,1160.1 1850.5,1160.6 1853.1,1161.0 1855.6,1161.4 1858.2,1162.3 1860.7,1162.5 1863.2,1163.1 1865.8,1163.5 1868.3,1164.4 1870.8,1164.9 1873.4,1165.1 1875.9,1165.7 1878.5,1166.1 1881.0,1166.6 1883.5,1167.1 1886.1,1167.6 1888.6,1168.0 1891.1,1168.7 1893.7,1169.0 1896.2,1169.5 1898.8,1169.9 1901.3,1170.0 1903.8,1170.3 1906.4,1171.0 1908.9,1171.5 1911.4,1172.1 1914.0,1172.6 1916.5,1173.0 1919.1,1173.3 1921.6,1173.6 1924.1,1174.0 1926.7,1174.7 1929.2,1175.2 1931.7,1175.4 1934.3,1175.8 1936.8,1176.2 1939.4,1176.7 1941.9,1177.2 1944.4,1177.4 1947.0,1177.5 1949.5,1178.1 1952.0,1178.6 1954.6,1178.9 1957.1,1179.2 1959.7,1179.7 1962.2,1180.1 1964.7,1180.7 1967.3,1181.2 1969.8,1181.4 1972.3,1181.9 1974.9,1182.2 1977.4,1182.5 1979.9,1182.7 1982.5,1182.9 1985.0,1183.2 1987.6,1183.7 1990.1,1184.0 1992.6,1184.1 1995.2,1184.6 1997.7,1184.8 2000.2,1185.3 2002.8,1185.7 2005.3,1185.9 2007.9,1186.0 2010.4,1186.4 2012.9,1186.9 2015.5,1187.5 2018.0,1187.7 2020.5,1187.8 2023.1,1188.2 2025.6,1188.5 2028.2,1188.9 2030.7,1189.3 2033.2,1189.5 2035.8,1189.7 2038.3,1189.8 2040.8,1190.1 2043.4,1190.4 2045.9,1190.7 2048.5,1190.8 2051.0,1191.2 2053.5,1191.5 2056.1,1191.6 2058.6,1191.8 2061.1,1192.2 2063.7,1192.5 2066.2,1192.8 2068.8,1193.2 2071.3,1193.4 2073.8,1193.5 2076.4,1194.2 2078.9,1194.3 2081.4,1194.3 2084.0,1194.6 2086.5,1195.1 2089.1,1195.1 2091.6,1195.2 2094.1,1195.7 2096.7,1195.7 2099.2,1196.1 2101.7,1196.6 2104.3,1196.6 2106.8,1196.8 2109.4,1197.0 2111.9,1197.3 2114.4,1197.4 2117.0,1197.3 2119.5,1197.5 2122.0,1197.8 2124.6,1198.0 2127.1,1198.2 2129.7,1198.5 2132.2,1198.7 2134.7,1199.1 2137.3,1199.1 2139.8,1199.3 2142.3,1199.5 2144.9,1199.8 2147.4,1199.9 2149.9,1200.0 2152.5,1200.4 2155.0,1200.7 2157.6,1200.6 2160.1,1200.6 2162.6,1200.9 2165.2,1200.9 2167.7,1201.0 2170.2,1201.3 2172.8,1201.7 2175.3,1202.0 2177.9,1202.3 2180.4,1202.3 2182.9,1202.4 2185.5,1202.6 2188.0,1202.5 2190.5,1202.5 2193.1,1203.0 2195.6,1203.2 2198.2,1203.4 2200.7,1203.5 2203.2,1203.5 2205.8,1203.7 2208.3,1203.8 2210.8,1204.2 2213.4,1204.5 2215.9,1204.4 2218.5,1204.4 2221.0,1204.8 2223.5,1204.9 2226.1,1205.0 2228.6,1205.4 2231.1,1205.5 2233.7,1205.4 2236.2,1205.4 2238.8,1205.7 2241.3,1205.8 2243.8,1205.9 2246.4,1206.1 2248.9,1206.1 2251.4,1206.1 2254.0,1206.4 2256.5,1206.4 2259.1,1206.5 2261.6,1206.6 2264.1,1206.7 2266.7,1206.9 2269.2,1207.0 2271.7,1206.8 2274.3,1206.9 2276.8,1207.2 2279.4,1207.4 2281.9,1207.6 2284.4,1207.7 2287.0,1207.8 2289.5,1207.9 2292.0,1208.0 2294.6,1208.2 2297.1,1208.2 2299.6,1208.4 2302.2,1208.5 2304.7,1208.6 2307.3,1208.6 2309.8,1208.5 2312.3,1208.9 2314.9,1209.2 2317.4,1209.1 2319.9,1209.2 2322.5,1209.1 2325.0,1209.0 2327.6,1209.2 2330.1,1209.5 2332.6,1209.8 2335.2,1209.9 2337.7,1209.6 2340.2,1209.6 2342.8,1210.0 2345.3,1210.0 2347.9,1210.1 2350.4,1210.2 2352.9,1210.3 2355.5,1210.7 2358.0,1210.6 2360.5,1210.7 2363.1,1210.6 2365.6,1210.7 2368.2,1210.9 2370.7,1211.2 2373.2,1211.0 2375.8,1210.9 2378.3,1211.2 2380.8,1211.3 2383.4,1211.2 2385.9,1211.3 2388.5,1211.3 2391.0,1211.3 2393.5,1211.5 2396.1,1211.7 2398.6,1211.5 2400.0,1211.8"/>
</g>
<path d="M1907.6 161.5H2039.6" stroke="#000000" stroke-width="7" stroke-linecap="round" fill="none" shape-rendering="crispEdges"/>
<path d="M1907.6 234.5H2039.6" stroke="#FF0000" stroke-width="7" stroke-linecap="round" fill="none" shape-rendering="crispEdges"/>
<path d="M1907.6 307.5H2039.6" stroke="#0000FF" stroke-width="7" stroke-linecap="round" fill="none" shape-rendering="crispEdges"/>
<path d="M1907.6 380.5H2039.6" stroke="#008000" stroke-width="7" stroke-linecap="round" fill="none" shape-rendering="crispEdges"/>
<path d="M1907.6 453.5H2039.6" stroke="#FF00FF" stroke-width="7" stroke-linecap="round" fill="none" shape-rendering="crispEdges"/>
<path d="M1907.6 526.5H2039.6" stroke="#FF8000" stroke-width="7" stroke-linecap="round" fill="none" shape-rendering="crispEdges"/>
<path d="M1907.6 599.5H2039.6" stroke="#00FF00" stroke-width="7" stroke-linecap="round" fill="none" shape-rendering="crispEdges"/>
</g>
<g id="chartB">
<polyline class="ln" stroke="#FF8000" points="928.5,2695.1 998.5,2676.5 1068.4,2670.3 1418.3,2639.3 1698.2,2589.7 1978.1,2502.8 2258,2453.2"/>
<circle cx="928.5" cy="2695.1" r="8.6" fill="#FF8000"/><circle cx="925.9" cy="2692.9" r="4.8" fill="url(#hl)"/>
<circle cx="998.5" cy="2676.5" r="8.6" fill="#FF8000"/><circle cx="995.9" cy="2674.3" r="4.8" fill="url(#hl)"/>
<circle cx="1068.4" cy="2670.3" r="8.6" fill="#FF8000"/><circle cx="1065.8" cy="2668.1" r="4.8" fill="url(#hl)"/>
<circle cx="1418.3" cy="2639.3" r="8.6" fill="#FF8000"/><circle cx="1415.7" cy="2637.1" r="4.8" fill="url(#hl)"/>
<circle cx="1698.2" cy="2589.7" r="8.6" fill="#FF8000"/><circle cx="1695.6" cy="2587.5" r="4.8" fill="url(#hl)"/>
<circle cx="1978.1" cy="2502.8" r="8.6" fill="#FF8000"/><circle cx="1975.5" cy="2500.6" r="4.8" fill="url(#hl)"/>
<circle cx="2258" cy="2453.2" r="8.6" fill="#FF8000"/><circle cx="2255.4" cy="2451" r="4.8" fill="url(#hl)"/>
<polyline class="ln" stroke="#FF0000" points="928.5,2670.3 998.5,2651.7 1068.4,2645.5 1418.3,2633.1 1698.2,2571 1978.1,2496.6 2258,2434.6"/>
<circle cx="928.5" cy="2670.3" r="8.6" fill="#FF0000"/><circle cx="925.9" cy="2668.1" r="4.8" fill="url(#hl)"/>
<circle cx="998.5" cy="2651.7" r="8.6" fill="#FF0000"/><circle cx="995.9" cy="2649.5" r="4.8" fill="url(#hl)"/>
<circle cx="1068.4" cy="2645.5" r="8.6" fill="#FF0000"/><circle cx="1065.8" cy="2643.3" r="4.8" fill="url(#hl)"/>
<circle cx="1418.3" cy="2633.1" r="8.6" fill="#FF0000"/><circle cx="1415.7" cy="2630.9" r="4.8" fill="url(#hl)"/>
<circle cx="1698.2" cy="2571" r="8.6" fill="#FF0000"/><circle cx="1695.6" cy="2568.8" r="4.8" fill="url(#hl)"/>
<circle cx="1978.1" cy="2496.6" r="8.6" fill="#FF0000"/><circle cx="1975.5" cy="2494.4" r="4.8" fill="url(#hl)"/>
<circle cx="2258" cy="2434.6" r="8.6" fill="#FF0000"/><circle cx="2255.4" cy="2432.4" r="4.8" fill="url(#hl)"/>
<polyline class="ln" stroke="#1B68DE" points="928.5,1671.8 998.5,2577.2 1068.4,2589.7 1418.3,2595.9 1698.2,2515.2 1978.1,2459.4 2258,2397.4"/>
<circle cx="928.5" cy="1671.8" r="8.6" fill="#1B68DE"/><circle cx="925.9" cy="1669.6" r="4.8" fill="url(#hl)"/>
<circle cx="998.5" cy="2577.2" r="8.6" fill="#1B68DE"/><circle cx="995.9" cy="2575" r="4.8" fill="url(#hl)"/>
<circle cx="1068.4" cy="2589.7" r="8.6" fill="#1B68DE"/><circle cx="1065.8" cy="2587.5" r="4.8" fill="url(#hl)"/>
<circle cx="1418.3" cy="2595.9" r="8.6" fill="#1B68DE"/><circle cx="1415.7" cy="2593.7" r="4.8" fill="url(#hl)"/>
<circle cx="1698.2" cy="2515.2" r="8.6" fill="#1B68DE"/><circle cx="1695.6" cy="2513" r="4.8" fill="url(#hl)"/>
<circle cx="1978.1" cy="2459.4" r="8.6" fill="#1B68DE"/><circle cx="1975.5" cy="2457.2" r="4.8" fill="url(#hl)"/>
<circle cx="2258" cy="2397.4" r="8.6" fill="#1B68DE"/><circle cx="2255.4" cy="2395.2" r="4.8" fill="url(#hl)"/>
<polyline class="ln" stroke="#00FF00" points="928.5,2261 998.5,2447 1068.4,2502.8 1418.3,2620.7 1698.2,2571 1978.1,2490.4 2258,2434.6"/>
<circle cx="928.5" cy="2261" r="8.6" fill="#00FF00"/><circle cx="925.9" cy="2258.8" r="4.8" fill="url(#hl)"/>
<circle cx="998.5" cy="2447" r="8.6" fill="#00FF00"/><circle cx="995.9" cy="2444.8" r="4.8" fill="url(#hl)"/>
<circle cx="1068.4" cy="2502.8" r="8.6" fill="#00FF00"/><circle cx="1065.8" cy="2500.6" r="4.8" fill="url(#hl)"/>
<circle cx="1418.3" cy="2620.7" r="8.6" fill="#00FF00"/><circle cx="1415.7" cy="2618.5" r="4.8" fill="url(#hl)"/>
<circle cx="1698.2" cy="2571" r="8.6" fill="#00FF00"/><circle cx="1695.6" cy="2568.8" r="4.8" fill="url(#hl)"/>
<circle cx="1978.1" cy="2490.4" r="8.6" fill="#00FF00"/><circle cx="1975.5" cy="2488.2" r="4.8" fill="url(#hl)"/>
<circle cx="2258" cy="2434.6" r="8.6" fill="#00FF00"/><circle cx="2255.4" cy="2432.4" r="4.8" fill="url(#hl)"/>
<polyline class="ln" stroke="#000000" points="928.5,2310.6 998.5,2564.8 1068.4,2583.5 1418.3,2595.9 1698.2,2527.6 1978.1,2459.4 2258,2372.6"/>
<circle cx="928.5" cy="2310.6" r="8.6" fill="#000000"/><circle cx="925.9" cy="2308.4" r="4.8" fill="url(#hl)"/>
<circle cx="998.5" cy="2564.8" r="8.6" fill="#000000"/><circle cx="995.9" cy="2562.6" r="4.8" fill="url(#hl)"/>
<circle cx="1068.4" cy="2583.5" r="8.6" fill="#000000"/><circle cx="1065.8" cy="2581.3" r="4.8" fill="url(#hl)"/>
<circle cx="1418.3" cy="2595.9" r="8.6" fill="#000000"/><circle cx="1415.7" cy="2593.7" r="4.8" fill="url(#hl)"/>
<circle cx="1698.2" cy="2527.6" r="8.6" fill="#000000"/><circle cx="1695.6" cy="2525.4" r="4.8" fill="url(#hl)"/>
<circle cx="1978.1" cy="2459.4" r="8.6" fill="#000000"/><circle cx="1975.5" cy="2457.2" r="4.8" fill="url(#hl)"/>
<circle cx="2258" cy="2372.6" r="8.6" fill="#000000"/><circle cx="2255.4" cy="2370.4" r="4.8" fill="url(#hl)"/>
<path class="eb" stroke="#FF8000" d="M916.5 2679.1H940.5M916.5 2711H940.5M928.5 2679.1V2686.5M928.5 2703.7V2711M986.5 2660.4H1010.5M986.5 2692.5H1010.5M998.5 2660.4V2667.9M998.5 2685.1V2692.5M1056.4 2654.2H1080.4M1056.4 2686.4H1080.4M1068.4 2654.2V2661.7M1068.4 2678.9V2686.4M1406.3 2623H1430.3M1406.3 2655.5H1430.3M1418.3 2623V2630.7M1418.3 2647.9V2655.5M1686.2 2573.2H1710.2M1686.2 2606.1H1710.2M1698.2 2573.2V2581.1M1698.2 2598.3V2606.1M1966.1 2485.9H1990.1M1966.1 2519.8H1990.1M1978.1 2485.9V2494.2M1978.1 2511.4V2519.8M2246 2436H2270M2246 2470.4H2270M2258 2436V2444.6M2258 2461.8V2470.4"/>
<path class="eb" stroke="#FF0000" d="M916.5 2654.2H940.5M916.5 2686.4H940.5M928.5 2654.2V2661.7M928.5 2678.9V2686.4M986.5 2635.5H1010.5M986.5 2667.9H1010.5M998.5 2635.5V2643.1M998.5 2660.3V2667.9M1056.4 2629.2H1080.4M1056.4 2661.7H1080.4M1068.4 2629.2V2636.9M1068.4 2654.1V2661.7M1406.3 2616.8H1430.3M1406.3 2649.3H1430.3M1418.3 2616.8V2624.5M1418.3 2641.7V2649.3M1686.2 2554.5H1710.2M1686.2 2587.6H1710.2M1698.2 2554.5V2562.4M1698.2 2579.6V2587.6M1966.1 2479.7H1990.1M1966.1 2513.6H1990.1M1978.1 2479.7V2488M1978.1 2505.2V2513.6M2246 2417.3H2270M2246 2451.9H2270M2258 2417.3V2426M2258 2443.2V2451.9"/>
<path class="eb" stroke="#1B68DE" d="M916.5 1650.7H940.5M916.5 1692.9H940.5M928.5 1650.7V1663.2M928.5 1680.4V1692.9M986.5 2560.7H1010.5M986.5 2593.8H1010.5M998.5 2560.7V2568.6M998.5 2585.8V2593.8M1056.4 2573.2H1080.4M1056.4 2606.1H1080.4M1068.4 2573.2V2581.1M1068.4 2598.3V2606.1M1406.3 2579.4H1430.3M1406.3 2612.3H1430.3M1418.3 2579.4V2587.3M1418.3 2604.5V2612.3M1686.2 2498.4H1710.2M1686.2 2532.1H1710.2M1698.2 2498.4V2506.6M1698.2 2523.8V2532.1M1966.1 2442.3H1990.1M1966.1 2476.6H1990.1M1978.1 2442.3V2450.8M1978.1 2468V2476.6M2246 2379.9H2270M2246 2414.9H2270M2258 2379.9V2388.8M2258 2406V2414.9"/>
<path class="eb" stroke="#00FF00" d="M916.5 2242.8H940.5M916.5 2279.1H940.5M928.5 2242.8V2252.4M928.5 2269.6V2279.1M986.5 2429.8H1010.5M986.5 2464.2H1010.5M998.5 2429.8V2438.4M998.5 2455.6V2464.2M1056.4 2485.9H1080.4M1056.4 2519.8H1080.4M1068.4 2485.9V2494.2M1068.4 2511.4V2519.8M1406.3 2604.3H1430.3M1406.3 2637H1430.3M1418.3 2604.3V2612.1M1418.3 2629.3V2637M1686.2 2554.5H1710.2M1686.2 2587.6H1710.2M1698.2 2554.5V2562.4M1698.2 2579.6V2587.6M1966.1 2473.4H1990.1M1966.1 2507.4H1990.1M1978.1 2473.4V2481.8M1978.1 2499V2507.4M2246 2417.3H2270M2246 2451.9H2270M2258 2417.3V2426M2258 2443.2V2451.9"/>
<path class="eb" stroke="#000000" d="M916.5 2292.7H940.5M916.5 2328.5H940.5M928.5 2292.7V2302M928.5 2319.2V2328.5M986.5 2548.2H1010.5M986.5 2581.5H1010.5M998.5 2548.2V2556.2M998.5 2573.4V2581.5M1056.4 2566.9H1080.4M1056.4 2600H1080.4M1068.4 2566.9V2574.9M1068.4 2592.1V2600M1406.3 2579.4H1430.3M1406.3 2612.3H1430.3M1418.3 2579.4V2587.3M1418.3 2604.5V2612.3M1686.2 2510.8H1710.2M1686.2 2544.4H1710.2M1698.2 2510.8V2519M1698.2 2536.2V2544.4M1966.1 2442.3H1990.1M1966.1 2476.6H1990.1M1978.1 2442.3V2450.8M1978.1 2468V2476.6M2246 2355H2270M2246 2390.2H2270M2258 2355V2364M2258 2381.2V2390.2"/>
<path class="ax" stroke-width="5.4" d="M858.5 1545.3 V2813"/>
<path class="ax" stroke-width="5" d="M834 2788.5 H2400.9"/>
<path class="ax" stroke-width="5.8" d="M834 2664.6H858.5M834 2540.5H858.5M834 2416.5H858.5M834 2292.5H858.5M834 2168.4H858.5M834 2044.4H858.5M834 1920.4H858.5M834 1796.4H858.5M834 1672.3H858.5M834 1548.3H858.5M846 2726.6H858.5M846 2602.6H858.5M846 2478.5H858.5M846 2354.5H858.5M846 2230.5H858.5M846 2106.4H858.5M846 1982.4H858.5M846 1858.4H858.5M846 1734.3H858.5M846 1610.3H858.5"/>
<path class="ax" stroke-width="5.8" d="M998.5 2788.6V2813M1138.4 2788.6V2813M1278.3 2788.6V2813M1418.3 2788.6V2813M1558.2 2788.6V2813M1698.2 2788.6V2813M1838.2 2788.6V2813M1978.1 2788.6V2813M2118.1 2788.6V2813M2258 2788.6V2813M2397.9 2788.6V2813M928.5 2788.6V2800M1068.4 2788.6V2800M1208.4 2788.6V2800M1348.3 2788.6V2800M1488.3 2788.6V2800M1628.2 2788.6V2800M1768.2 2788.6V2800M1908.1 2788.6V2800M2048.1 2788.6V2800M2188 2788.6V2800M2328 2788.6V2800"/>
<path d="M1677 1618H1807" stroke="#FF8000" stroke-width="4" stroke-linecap="round" fill="none" shape-rendering="crispEdges"/>
<circle cx="1741.8" cy="1617.7" r="8.6" fill="#FF8000"/><circle cx="1739.2" cy="1615.5" r="4.8" fill="url(#hl)"/>
<path d="M1677 1690H1807" stroke="#FF0000" stroke-width="4" stroke-linecap="round" fill="none" shape-rendering="crispEdges"/>
<circle cx="1741.8" cy="1689.5" r="8.6" fill="#FF0000"/><circle cx="1739.2" cy="1687.3" r="4.8" fill="url(#hl)"/>
<path d="M1677 1761.5H1807" stroke="#1B68DE" stroke-width="5" stroke-linecap="round" fill="none" shape-rendering="crispEdges"/>
<circle cx="1741.8" cy="1761.4" r="8.6" fill="#1B68DE"/><circle cx="1739.2" cy="1759.2" r="4.8" fill="url(#hl)"/>
<path d="M1677 1833.5H1807" stroke="#00FF00" stroke-width="5" stroke-linecap="round" fill="none" shape-rendering="crispEdges"/>
<circle cx="1741.8" cy="1833.2" r="8.6" fill="#00FF00"/><circle cx="1739.2" cy="1831" r="4.8" fill="url(#hl)"/>
<path d="M1677 1905.5H1807" stroke="#000000" stroke-width="5" stroke-linecap="round" fill="none" shape-rendering="crispEdges"/>
<circle cx="1741.8" cy="1905.1" r="8.6" fill="#000000"/><circle cx="1739.2" cy="1902.9" r="4.8" fill="url(#hl)"/>
</g>
<g class="tx">
<text class="lab" y="72.0" font-size="86.5"><tspan x="8.0">(</tspan><tspan x="35.2" y="71.4" font-weight="bold" font-size="84.5">a</tspan><tspan x="75.0" y="72.0">)</tspan></text>
<text class="lab" y="1567.3" font-size="86.5"><tspan x="8.0">(</tspan><tspan x="35.5" y="1566.8" font-weight="bold" font-size="89.5">b</tspan><tspan x="85.0" y="1567.3">)</tspan></text>
<g font-size="48.7" text-anchor="end">
<text x="821" y="1252">0.00</text>
<text y="1133.5" text-anchor="start" font-size="48.7"><tspan x="726.22">0.</tspan><tspan x="768.44">1</tspan><tspan x="793.92">5</tspan></text>
<text x="821" y="1015">0.30</text>
<text x="821" y="896.5">0.45</text>
<text x="821" y="778">0.60</text>
<text x="821" y="659.4">0.75</text>
<text x="821" y="540.9">0.90</text>
<text y="422.4" text-anchor="start" font-size="48.7"><tspan x="727.82">1</tspan><tspan x="753.30">.05</tspan></text>
<text y="303.9" text-anchor="start" font-size="48.7"><tspan x="727.82">1</tspan><tspan x="753.30">.20</tspan></text>
<text y="185.4" text-anchor="start" font-size="48.7"><tspan x="727.82">1</tspan><tspan x="753.30">.35</tspan></text>
<text y="66.9" text-anchor="start" font-size="48.7"><tspan x="727.82">1</tspan><tspan x="753.30">.50</tspan></text>
</g>
<g font-size="48.7" text-anchor="middle">
<text x="962.5" y="1340.7">440</text>
<text x="1102" y="1340.7">495</text>
<text x="1241.6" y="1340.7">550</text>
<text x="1381.1" y="1340.7">605</text>
<text x="1520.7" y="1340.7">660</text>
<text y="1340.7" text-anchor="start" font-size="48.7"><tspan x="1619.57">7</tspan><tspan x="1648.26">1</tspan><tspan x="1673.74">5</tspan></text>
<text x="1799.8" y="1340.7">770</text>
<text x="1939.4" y="1340.7">825</text>
<text x="2078.9" y="1340.7">880</text>
<text x="2218.5" y="1340.7">935</text>
<text x="2358" y="1340.7">990</text>
</g>
<text x="1629.3" y="1433.5" font-size="59.8" text-anchor="middle">Wavelength (nm)</text>
<text transform="translate(658.6 635) rotate(-90)" font-size="59.8" text-anchor="middle">Absorbance</text>
<text x="2056.2" y="181.8" font-size="58.3" letter-spacing="0.65">5nm</text>
<text y="254.8" text-anchor="start" font-size="58.3" letter-spacing="0.65"><tspan x="2058.12">1</tspan><tspan x="2089.27">0nm</tspan></text>
<text y="327.8" text-anchor="start" font-size="58.3" letter-spacing="0.65"><tspan x="2058.12">1</tspan><tspan x="2089.27">5nm</tspan></text>
<text x="2056.2" y="400.8" font-size="58.3" letter-spacing="0.65">40nm</text>
<text x="2056.2" y="473.8" font-size="58.3" letter-spacing="0.65">60nm</text>
<text x="2056.2" y="546.8" font-size="58.3" letter-spacing="0.65">80nm</text>
<text y="619.8" text-anchor="start" font-size="58.3" letter-spacing="0.65"><tspan x="2058.12">1</tspan><tspan x="2089.27">00nm</tspan></text>
<g font-size="53.0" text-anchor="end">
<text x="818.3" y="2804.1">500</text>
<text x="818.3" y="2680.1">520</text>
<text x="818.3" y="2556">540</text>
<text x="818.3" y="2432">560</text>
<text x="818.3" y="2308">580</text>
<text x="818.3" y="2183.9">600</text>
<text x="818.3" y="2059.9">620</text>
<text x="818.3" y="1935.9">640</text>
<text x="818.3" y="1811.9">660</text>
<text x="818.3" y="1687.8">680</text>
<text x="818.3" y="1563.8">700</text>
</g>
<g font-size="53.0" text-anchor="middle">
<text x="859.3" y="2870.2" letter-spacing="-0.5">0</text>
<text y="2870.2" text-anchor="start" letter-spacing="-0.5" font-size="53.0"><tspan x="971.57">1</tspan><tspan x="998.80">0</tspan></text>
<text x="1138.7" y="2870.2" letter-spacing="-0.5">20</text>
<text x="1278.6" y="2870.2" letter-spacing="-0.5">30</text>
<text x="1418.6" y="2870.2" letter-spacing="-0.5">40</text>
<text x="1558.5" y="2870.2" letter-spacing="-0.5">50</text>
<text x="1698.5" y="2870.2" letter-spacing="-0.5">60</text>
<text x="1838.5" y="2870.2" letter-spacing="-0.5">70</text>
<text x="1978.4" y="2870.2" letter-spacing="-0.5">80</text>
<text x="2118.4" y="2870.2" letter-spacing="-0.5">90</text>
<text y="2870.2" text-anchor="start" letter-spacing="-0.5" font-size="53.0"><tspan x="2216.58">1</tspan><tspan x="2243.81">00</tspan></text>
<text y="2870.2" text-anchor="start" letter-spacing="-0.5" font-size="53.0"><tspan x="2356.48">1</tspan><tspan x="2385.46">1</tspan><tspan x="2412.69">0</tspan></text>
</g>
<text x="1628.6" y="2969.2" font-size="64.6" text-anchor="middle">AuNPs Size (nm)</text>
<text transform="translate(703 2167) rotate(-90)" font-size="64.6" text-anchor="middle">Maximum wavelength (nm)</text>
<text x="1822.3" y="1637.3" font-size="60.0" letter-spacing="-0.8">AuNPs</text>
<text x="1822.3" y="1709.1" font-size="60.0" letter-spacing="-0.8">AuNPs with 4−MBA</text>
<text x="1822.3" y="1781" font-size="60.0" letter-spacing="-0.8">AuNPs with 2−NT</text>
<text x="1822.3" y="1852.8" font-size="60.0" letter-spacing="-0.8">AuNPs with 4−AATP</text>
<text x="1822.3" y="1924.7" font-size="60.0" letter-spacing="-0.8">AuNPs with BPT</text>
</g>
<path fill="#fff" shape-rendering="crispEdges" d="M771.82 1128.66H780.54V1135.00H771.82Z M785.14 1128.66H793.48V1135.00H785.14Z M731.20 417.56H739.92V423.90H731.20Z M744.52 417.56H752.86V423.90H744.52Z M731.20 299.06H739.92V305.40H731.20Z M744.52 299.06H752.86V305.40H744.52Z M731.20 180.56H739.92V186.90H731.20Z M744.52 180.56H752.86V186.90H744.52Z M731.20 62.06H739.92V68.40H731.20Z M744.52 62.06H752.86V68.40H744.52Z M1651.64 1335.86H1660.36V1342.20H1651.64Z M1664.96 1335.86H1673.30V1342.20H1664.96Z M2062.16 249.24H2072.63V256.30H2062.16Z M2078.08 249.24H2088.10V256.30H2078.08Z M2062.16 322.24H2072.63V329.30H2062.16Z M2078.08 322.24H2088.10V329.30H2078.08Z M2062.16 614.24H2072.63V621.30H2062.16Z M2078.08 614.24H2088.10V621.30H2078.08Z M975.24 2865.04H984.75V2871.70H975.24Z M989.73 2865.04H998.82V2871.70H989.73Z M2220.25 2865.04H2229.76V2871.70H2220.25Z M2234.74 2865.04H2243.83V2871.70H2234.74Z M2360.15 2865.04H2369.66V2871.70H2360.15Z M2374.64 2865.04H2383.73V2871.70H2374.64Z M2389.13 2865.04H2398.64V2871.70H2389.13Z M2403.62 2865.04H2412.71V2871.70H2403.62Z"/>
</svg>
</body>
</html>
